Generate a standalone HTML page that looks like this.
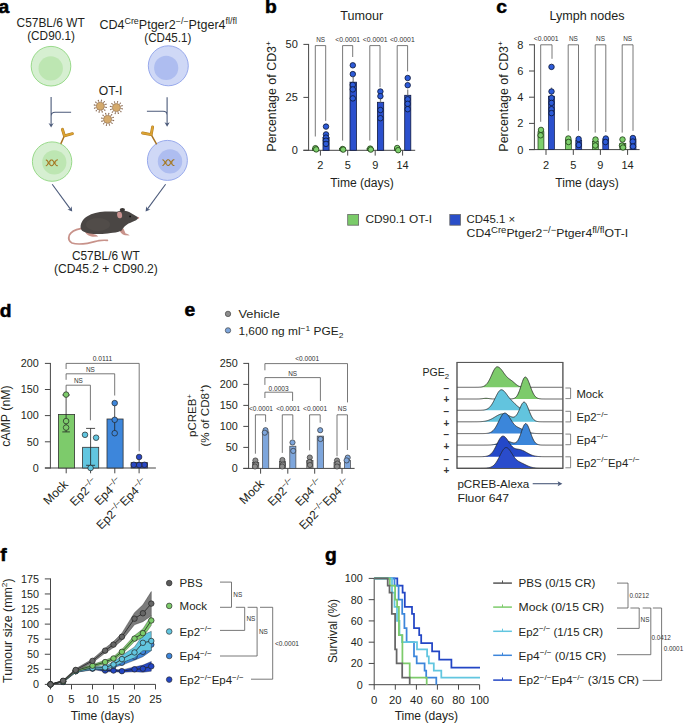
<!DOCTYPE html>
<html><head><meta charset="utf-8"><style>
html,body{margin:0;padding:0;background:#fff;width:685px;height:723px;overflow:hidden}
svg{display:block}
text{font-family:"Liberation Sans", sans-serif;font-variant-ligatures:none;font-kerning:normal}
</style></head><body>
<svg width="685" height="723" viewBox="0 0 685 723" font-family='"Liberation Sans", sans-serif'>
<rect x="0" y="0" width="685" height="723" fill="#fff"/>
<text transform="translate(-1.5,12.8) scale(1.07,1)" x="0" y="0" font-size="18" font-weight="bold" stroke="#000" stroke-width="0.5" fill="#000">a</text>
<text transform="translate(264.9,12.9) scale(1.07,1)" x="0" y="0" font-size="18" font-weight="bold" stroke="#000" stroke-width="0.5" fill="#000">b</text>
<text transform="translate(496.2,13.0) scale(1.07,1)" x="0" y="0" font-size="18" font-weight="bold" stroke="#000" stroke-width="0.5" fill="#000">c</text>
<text transform="translate(-0.3,316.7) scale(1.07,1)" x="0" y="0" font-size="18" font-weight="bold" stroke="#000" stroke-width="0.5" fill="#000">d</text>
<text transform="translate(184.6,315.9) scale(1.07,1)" x="0" y="0" font-size="18" font-weight="bold" stroke="#000" stroke-width="0.5" fill="#000">e</text>
<text transform="translate(0.2,560.9) scale(1.07,1)" x="0" y="0" font-size="18" font-weight="bold" stroke="#000" stroke-width="0.5" fill="#000">f</text>
<text transform="translate(324.9,561.2) scale(1.07,1)" x="0" y="0" font-size="18" font-weight="bold" stroke="#000" stroke-width="0.5" fill="#000">g</text>
<circle cx="51" cy="66.2" r="19.8" fill="#d6efd1" stroke="#8fd67f" stroke-width="0.9"/>
<circle cx="50.7" cy="68.4" r="12.2" fill="#bde6b2"/>
<circle cx="168.3" cy="65.8" r="20" fill="#cfd8f6" stroke="#8ea2ea" stroke-width="0.9"/>
<circle cx="166.2" cy="67.9" r="12.1" fill="#aebdf0"/>
<circle cx="52.1" cy="161.6" r="19.7" fill="#d6efd1" stroke="#8fd67f" stroke-width="0.9"/>
<circle cx="54.3" cy="162.4" r="12.1" fill="#bde6b2"/>
<circle cx="167.4" cy="160.4" r="20" fill="#cfd8f6" stroke="#8ea2ea" stroke-width="0.9"/>
<circle cx="170" cy="161.4" r="12.2" fill="#aebdf0"/>
<path d="M51.1,97 V125 M71.1,112.3 H55.1 Q51.1,112.3 51.1,116.3" stroke="#4b5a7a" stroke-width="1.1" fill="none"/>
<path d="M51.10,127.60 L48.50,123.00 L51.10,124.38 L53.70,123.00 Z" fill="#4b5a7a"/>
<path d="M167.1,97.2 V124.5 M146.9,111.3 H163.1 Q167.1,111.3 167.1,115.3" stroke="#4b5a7a" stroke-width="1.1" fill="none"/>
<path d="M167.10,126.80 L164.50,122.20 L167.10,123.58 L169.70,122.20 Z" fill="#4b5a7a"/>
<line x1="52.2" y1="184.2" x2="70.43" y2="209.18" stroke="#4b5a7a" stroke-width="1.1"/>
<path d="M72.20,211.60 L67.39,209.42 L70.30,209.00 L71.59,206.35 Z" fill="#4b5a7a"/>
<line x1="165.6" y1="184.2" x2="147.37" y2="209.18" stroke="#4b5a7a" stroke-width="1.1"/>
<path d="M145.60,211.60 L146.21,206.35 L147.50,209.00 L150.41,209.42 Z" fill="#4b5a7a"/>
<path d="M61.0,143.4 L64.4,135.8" stroke="#a87424" stroke-width="1.5" fill="none" stroke-linecap="round"/>
<path d="M62.4,129.3 L64.4,135.8 L72.4,133.7" stroke="#b27b22" stroke-width="2.9" fill="none" stroke-linecap="round" stroke-linejoin="round"/>
<path d="M62.4,129.3 L64.4,135.8 L72.4,133.7" stroke="#dba332" stroke-width="1.9" fill="none" stroke-linecap="round" stroke-linejoin="round"/>
<path d="M156.4,143.8 L151.2,134.6" stroke="#a87424" stroke-width="1.5" fill="none" stroke-linecap="round"/>
<path d="M152.6,126.9 L151.2,134.6 L142.6,133.0" stroke="#b27b22" stroke-width="2.9" fill="none" stroke-linecap="round" stroke-linejoin="round"/>
<path d="M152.6,126.9 L151.2,134.6 L142.6,133.0" stroke="#dba332" stroke-width="1.9" fill="none" stroke-linecap="round" stroke-linejoin="round"/>
<path d="M104.12,106.97 L106.18,107.39 M103.22,108.78 L104.80,110.17 M101.54,109.90 L102.21,111.89 M99.53,110.02 L99.11,112.08 M97.72,109.12 L96.33,110.70 M96.60,107.44 L94.61,108.11 M96.48,105.43 L94.42,105.01 M97.38,103.62 L95.80,102.23 M99.06,102.50 L98.39,100.51 M101.07,102.38 L101.49,100.32 M102.88,103.28 L104.27,101.70 M104.00,104.96 L105.99,104.29" stroke="#8d6e57" stroke-width="0.8" fill="none"/>
<circle cx="106.28" cy="107.41" r="0.65" fill="#8d6e57"/>
<circle cx="104.87" cy="110.24" r="0.65" fill="#8d6e57"/>
<circle cx="102.24" cy="111.98" r="0.65" fill="#8d6e57"/>
<circle cx="99.09" cy="112.18" r="0.65" fill="#8d6e57"/>
<circle cx="96.26" cy="110.77" r="0.65" fill="#8d6e57"/>
<circle cx="94.52" cy="108.14" r="0.65" fill="#8d6e57"/>
<circle cx="94.32" cy="104.99" r="0.65" fill="#8d6e57"/>
<circle cx="95.73" cy="102.16" r="0.65" fill="#8d6e57"/>
<circle cx="98.36" cy="100.42" r="0.65" fill="#8d6e57"/>
<circle cx="101.51" cy="100.22" r="0.65" fill="#8d6e57"/>
<circle cx="104.34" cy="101.63" r="0.65" fill="#8d6e57"/>
<circle cx="106.08" cy="104.26" r="0.65" fill="#8d6e57"/>
<circle cx="100.3" cy="106.2" r="4.0" fill="#d5aa6b" stroke="#9c7b5c" stroke-width="0.7"/>
<path d="M120.22,108.37 L122.28,108.79 M119.32,110.18 L120.90,111.57 M117.64,111.30 L118.31,113.29 M115.63,111.42 L115.21,113.48 M113.82,110.52 L112.43,112.10 M112.70,108.84 L110.71,109.51 M112.58,106.83 L110.52,106.41 M113.48,105.02 L111.90,103.63 M115.16,103.90 L114.49,101.91 M117.17,103.78 L117.59,101.72 M118.98,104.68 L120.37,103.10 M120.10,106.36 L122.09,105.69" stroke="#8d6e57" stroke-width="0.8" fill="none"/>
<circle cx="122.38" cy="108.81" r="0.65" fill="#8d6e57"/>
<circle cx="120.97" cy="111.64" r="0.65" fill="#8d6e57"/>
<circle cx="118.34" cy="113.38" r="0.65" fill="#8d6e57"/>
<circle cx="115.19" cy="113.58" r="0.65" fill="#8d6e57"/>
<circle cx="112.36" cy="112.17" r="0.65" fill="#8d6e57"/>
<circle cx="110.62" cy="109.54" r="0.65" fill="#8d6e57"/>
<circle cx="110.42" cy="106.39" r="0.65" fill="#8d6e57"/>
<circle cx="111.83" cy="103.56" r="0.65" fill="#8d6e57"/>
<circle cx="114.46" cy="101.82" r="0.65" fill="#8d6e57"/>
<circle cx="117.61" cy="101.62" r="0.65" fill="#8d6e57"/>
<circle cx="120.44" cy="103.03" r="0.65" fill="#8d6e57"/>
<circle cx="122.18" cy="105.66" r="0.65" fill="#8d6e57"/>
<circle cx="116.4" cy="107.6" r="4.0" fill="#d5aa6b" stroke="#9c7b5c" stroke-width="0.7"/>
<path d="M111.42,120.07 L113.48,120.49 M110.52,121.88 L112.10,123.27 M108.84,123.00 L109.51,124.99 M106.83,123.12 L106.41,125.18 M105.02,122.22 L103.63,123.80 M103.90,120.54 L101.91,121.21 M103.78,118.53 L101.72,118.11 M104.68,116.72 L103.10,115.33 M106.36,115.60 L105.69,113.61 M108.37,115.48 L108.79,113.42 M110.18,116.38 L111.57,114.80 M111.30,118.06 L113.29,117.39" stroke="#8d6e57" stroke-width="0.8" fill="none"/>
<circle cx="113.58" cy="120.51" r="0.65" fill="#8d6e57"/>
<circle cx="112.17" cy="123.34" r="0.65" fill="#8d6e57"/>
<circle cx="109.54" cy="125.08" r="0.65" fill="#8d6e57"/>
<circle cx="106.39" cy="125.28" r="0.65" fill="#8d6e57"/>
<circle cx="103.56" cy="123.87" r="0.65" fill="#8d6e57"/>
<circle cx="101.82" cy="121.24" r="0.65" fill="#8d6e57"/>
<circle cx="101.62" cy="118.09" r="0.65" fill="#8d6e57"/>
<circle cx="103.03" cy="115.26" r="0.65" fill="#8d6e57"/>
<circle cx="105.66" cy="113.52" r="0.65" fill="#8d6e57"/>
<circle cx="108.81" cy="113.32" r="0.65" fill="#8d6e57"/>
<circle cx="111.64" cy="114.73" r="0.65" fill="#8d6e57"/>
<circle cx="113.38" cy="117.36" r="0.65" fill="#8d6e57"/>
<circle cx="107.6" cy="119.3" r="4.0" fill="#d5aa6b" stroke="#9c7b5c" stroke-width="0.7"/>
<polyline points="45.80,165.70 46.20,165.63 46.60,165.43 47.00,165.10 47.40,164.66 47.80,164.13 48.20,163.54 48.60,162.92 49.00,162.29 49.40,161.68 49.80,161.13 50.20,160.65 50.60,160.28 51.00,160.03 51.40,159.91 51.80,159.93 52.20,160.08 52.60,160.36 53.00,160.76 53.40,161.26 53.80,161.83 54.20,162.44 54.60,163.08 55.00,163.70 55.40,164.27 55.80,164.78 56.20,165.19 56.60,165.49 57.00,165.66 57.40,165.70 57.80,165.59" fill="none" stroke="#a0741f" stroke-width="1.05"/>
<polyline points="45.80,159.90 46.20,159.97 46.60,160.17 47.00,160.50 47.40,160.94 47.80,161.47 48.20,162.06 48.60,162.68 49.00,163.31 49.40,163.92 49.80,164.47 50.20,164.95 50.60,165.32 51.00,165.57 51.40,165.69 51.80,165.67 52.20,165.52 52.60,165.24 53.00,164.84 53.40,164.34 53.80,163.77 54.20,163.16 54.60,162.52 55.00,161.90 55.40,161.33 55.80,160.82 56.20,160.41 56.60,160.11 57.00,159.94 57.40,159.90 57.80,160.01" fill="none" stroke="#a0741f" stroke-width="1.05"/>
<path d="M47.80,164.13 L47.80,161.47 M50.00,160.88 L50.00,164.72 M53.60,161.54 L53.60,164.06 M55.60,164.54 L55.60,161.06" stroke="#b58a3a" stroke-width="0.6" fill="none"/>
<polyline points="162.40,165.50 162.80,165.43 163.20,165.23 163.60,164.90 164.00,164.46 164.40,163.93 164.80,163.34 165.20,162.72 165.60,162.09 166.00,161.48 166.40,160.93 166.80,160.45 167.20,160.08 167.60,159.83 168.00,159.71 168.40,159.73 168.80,159.88 169.20,160.16 169.60,160.56 170.00,161.06 170.40,161.63 170.80,162.24 171.20,162.88 171.60,163.50 172.00,164.07 172.40,164.58 172.80,164.99 173.20,165.29 173.60,165.46 174.00,165.50 174.40,165.39" fill="none" stroke="#a0741f" stroke-width="1.05"/>
<polyline points="162.40,159.70 162.80,159.77 163.20,159.97 163.60,160.30 164.00,160.74 164.40,161.27 164.80,161.86 165.20,162.48 165.60,163.11 166.00,163.72 166.40,164.27 166.80,164.75 167.20,165.12 167.60,165.37 168.00,165.49 168.40,165.47 168.80,165.32 169.20,165.04 169.60,164.64 170.00,164.14 170.40,163.57 170.80,162.96 171.20,162.32 171.60,161.70 172.00,161.13 172.40,160.62 172.80,160.21 173.20,159.91 173.60,159.74 174.00,159.70 174.40,159.81" fill="none" stroke="#a0741f" stroke-width="1.05"/>
<path d="M164.40,163.93 L164.40,161.27 M166.60,160.68 L166.60,164.52 M170.20,161.34 L170.20,163.86 M172.20,164.34 L172.20,160.86" stroke="#b58a3a" stroke-width="0.6" fill="none"/>
<path d="M80.6,228.6 C76,229.5 71,232 69.4,235 C68.2,238 68.8,241.2 72,243 C76,244.4 82,244.1 87.4,243.3 C92,242.6 96,241.1 99,240.6 C102,240.2 105,240.2 107.4,240.4" stroke="#c8928a" stroke-width="1.7" fill="none" stroke-linecap="round"/>
<path d="M84.6,230.5 C85.6,234.2 88.6,236.4 93,236.7 L98.2,236.6 C97.4,235.2 95.6,234.6 93.6,234.3 L92,231.5 Z" fill="#c8928a"/>
<path d="M118.6,228.5 C119.8,232 122,234.6 125,235.3 L129.6,235.5 C128.8,234.3 127.2,233.7 125.6,233.4 L123.4,228.6 Z" fill="#c8928a"/>
<path d="M80.9,229 C79.5,224 83,218.5 87.4,216.2 C92,213.6 98,211.9 104.9,211.6 C109,211.4 113,211.6 117,211.7 C120,210.4 122.5,210.1 124.7,210.7 C128,211.3 130.5,212.6 132.5,214 C135,215.5 137,216.5 138.5,217.7 C137.6,219.3 136.5,220.1 135,220.7 C132.5,221.9 130.5,222.6 128.5,223.6 C125.5,225.2 123.2,227.8 121.7,230.6 C117.5,232.6 113.5,232.9 110.7,233.0 C106,233.7 102,234.1 99,234.0 C95,233.9 92,233.7 89.7,233.4 C85,232.6 82,231.5 80.9,229 Z" fill="#4a4644"/>
<ellipse cx="98" cy="224.5" rx="12" ry="6.5" fill="#57524f" opacity="0.55"/>
<ellipse cx="122.4" cy="209.8" rx="2.6" ry="1.9" fill="#3a3634"/>
<ellipse cx="119.6" cy="215.0" rx="2.5" ry="3.3" fill="#c99290" transform="rotate(-8 119.6 215)"/>
<circle cx="130.1" cy="216.4" r="0.95" fill="#111"/>
<circle cx="138.4" cy="217.9" r="0.8" fill="#d08a8a"/>
<text x="16.6" y="27.3" font-size="12" textLength="68.1" lengthAdjust="spacingAndGlyphs" fill="#231f20">C57BL/6 WT</text>
<text x="27.2" y="40.3" font-size="12" textLength="47.8" lengthAdjust="spacingAndGlyphs" fill="#231f20">(CD90.1)</text>
<text x="99.4" y="28.5" font-size="12" textLength="137.5" lengthAdjust="spacingAndGlyphs" fill="#231f20">CD4<tspan font-size="8.5" dy="-4.6">Cre</tspan><tspan dy="4.6">Ptger2</tspan><tspan font-size="8.5" dy="-4.6">&#8722;/&#8722;</tspan><tspan dy="4.6">Ptger4</tspan><tspan font-size="8.5" dy="-4.6">f&#8204;l/f&#8204;l</tspan></text>
<text x="144.3" y="42.4" font-size="12" textLength="47" lengthAdjust="spacingAndGlyphs" fill="#231f20">(CD45.1)</text>
<text x="98.8" y="95.2" font-size="12" textLength="23.6" lengthAdjust="spacingAndGlyphs" fill="#231f20">OT-I</text>
<text x="71.9" y="259.8" font-size="12" textLength="67.9" lengthAdjust="spacingAndGlyphs" fill="#231f20">C57BL/6 WT</text>
<text x="53.9" y="272.9" font-size="12" textLength="104" lengthAdjust="spacingAndGlyphs" fill="#231f20">(CD45.2 + CD90.2)</text>
<text x="361.7" y="19.9" font-size="12.5" text-anchor="middle" textLength="42.9" lengthAdjust="spacingAndGlyphs" fill="#231f20">Tumour</text>
<line x1="308.6" y1="43.949999999999996" x2="308.6" y2="150.75" stroke="#474747" stroke-width="1.0"/>
<line x1="303.4" y1="44.4" x2="308.6" y2="44.4" stroke="#474747" stroke-width="1.0"/>
<text x="297.8" y="48.36" font-size="11" text-anchor="end" fill="#231f20">50</text>
<line x1="303.4" y1="97.4" x2="308.6" y2="97.4" stroke="#474747" stroke-width="1.0"/>
<text x="297.8" y="101.36" font-size="11" text-anchor="end" fill="#231f20">25</text>
<line x1="303.4" y1="150.3" x2="308.6" y2="150.3" stroke="#474747" stroke-width="1.0"/>
<text x="297.8" y="154.26000000000002" font-size="11" text-anchor="end" fill="#231f20">0</text>
<line x1="303.4" y1="150.3" x2="415.2" y2="150.3" stroke="#474747" stroke-width="1.0"/>
<line x1="320.4" y1="150.3" x2="320.4" y2="155.60000000000002" stroke="#474747" stroke-width="1.0"/>
<line x1="347.7" y1="150.3" x2="347.7" y2="155.60000000000002" stroke="#474747" stroke-width="1.0"/>
<line x1="375.2" y1="150.3" x2="375.2" y2="155.60000000000002" stroke="#474747" stroke-width="1.0"/>
<line x1="402.6" y1="150.3" x2="402.6" y2="155.60000000000002" stroke="#474747" stroke-width="1.0"/>
<text x="320.4" y="169.2" font-size="11" text-anchor="middle" fill="#231f20">2</text>
<text x="347.7" y="169.2" font-size="11" text-anchor="middle" fill="#231f20">5</text>
<text x="375.2" y="169.2" font-size="11" text-anchor="middle" fill="#231f20">9</text>
<text x="402.6" y="169.2" font-size="11" text-anchor="middle" fill="#231f20">14</text>
<text x="362" y="186.5" font-size="12" text-anchor="middle" textLength="63.5" lengthAdjust="spacingAndGlyphs" fill="#231f20">Time (days)</text>
<text transform="translate(275.6,96.4) rotate(-90)" x="0" y="0" font-size="12" text-anchor="middle" textLength="110.5" lengthAdjust="spacingAndGlyphs" fill="#231f20">Percentage of CD3<tspan font-size="8" dy="-4.5">+</tspan></text>
<rect x="323.0" y="137.4" width="6.100000000000023" height="12.900000000000006" fill="#2b50cd" stroke="#101a40" stroke-width="0.8"/>
<rect x="350.0" y="82.2" width="6.399999999999977" height="68.10000000000001" fill="#2b50cd" stroke="#101a40" stroke-width="0.8"/>
<rect x="377.4" y="102.3" width="6.300000000000011" height="48.000000000000014" fill="#2b50cd" stroke="#101a40" stroke-width="0.8"/>
<rect x="404.7" y="95.3" width="6.100000000000023" height="55.000000000000014" fill="#2b50cd" stroke="#101a40" stroke-width="0.8"/>
<rect x="312.5" y="148.3" width="6.100000000000023" height="2.0" fill="#7dcf6c" stroke="#1d3a14" stroke-width="0.6"/>
<rect x="339.6" y="148.3" width="6.099999999999966" height="2.0" fill="#7dcf6c" stroke="#1d3a14" stroke-width="0.6"/>
<rect x="367.0" y="148.3" width="6.100000000000023" height="2.0" fill="#7dcf6c" stroke="#1d3a14" stroke-width="0.6"/>
<rect x="394.3" y="148.3" width="6.099999999999966" height="2.0" fill="#7dcf6c" stroke="#1d3a14" stroke-width="0.6"/>
<line x1="326" y1="133.5" x2="326" y2="137.4" stroke="#8a8a8a" stroke-width="1.3"/>
<line x1="353.2" y1="77" x2="353.2" y2="82.2" stroke="#8a8a8a" stroke-width="1.3"/>
<line x1="380.5" y1="98" x2="380.5" y2="102.3" stroke="#8a8a8a" stroke-width="1.3"/>
<line x1="407.7" y1="89.4" x2="407.7" y2="95.3" stroke="#8a8a8a" stroke-width="1.3"/>
<polyline points="315.3,136.5 315.3,45.6 325.7,45.6 325.7,120.9" stroke="#555" stroke-width="0.8" fill="none"/>
<text x="320.7" y="41.5" font-size="6.6" text-anchor="middle" textLength="8.9" lengthAdjust="spacingAndGlyphs" fill="#333">NS</text>
<polyline points="342.6,140.6 342.6,45.6 352.7,45.6 352.7,57.0" stroke="#555" stroke-width="0.8" fill="none"/>
<text x="347.7" y="41.5" font-size="6.6" text-anchor="middle" textLength="24.8" lengthAdjust="spacingAndGlyphs" fill="#333">&lt;0.0001</text>
<polyline points="369.8,140.6 369.8,45.6 380.0,45.6 380.0,87.2" stroke="#555" stroke-width="0.8" fill="none"/>
<text x="375.2" y="41.5" font-size="6.6" text-anchor="middle" textLength="24.8" lengthAdjust="spacingAndGlyphs" fill="#333">&lt;0.0001</text>
<polyline points="397.2,140.6 397.2,45.6 407.6,45.6 407.6,71.4" stroke="#555" stroke-width="0.8" fill="none"/>
<text x="402.3" y="41.5" font-size="6.6" text-anchor="middle" textLength="24.8" lengthAdjust="spacingAndGlyphs" fill="#333">&lt;0.0001</text>
<circle cx="326" cy="126.6" r="2.75" fill="#2d5bd9" stroke="#0d1633" stroke-width="0.8"/>
<circle cx="326" cy="134.4" r="2.75" fill="#2d5bd9" stroke="#0d1633" stroke-width="0.8"/>
<circle cx="326" cy="137.6" r="2.75" fill="#2d5bd9" stroke="#0d1633" stroke-width="0.8"/>
<circle cx="326" cy="140.7" r="2.75" fill="#2d5bd9" stroke="#0d1633" stroke-width="0.8"/>
<circle cx="326" cy="143.9" r="2.75" fill="#2d5bd9" stroke="#0d1633" stroke-width="0.8"/>
<circle cx="352.8" cy="65.3" r="2.75" fill="#2d5bd9" stroke="#0d1633" stroke-width="0.8"/>
<circle cx="352.8" cy="74.1" r="2.75" fill="#2d5bd9" stroke="#0d1633" stroke-width="0.8"/>
<circle cx="352.8" cy="84.9" r="2.75" fill="#2d5bd9" stroke="#0d1633" stroke-width="0.8"/>
<circle cx="352.8" cy="89.4" r="2.75" fill="#2d5bd9" stroke="#0d1633" stroke-width="0.8"/>
<circle cx="352.8" cy="98.4" r="2.75" fill="#2d5bd9" stroke="#0d1633" stroke-width="0.8"/>
<circle cx="380.4" cy="91.5" r="2.75" fill="#2d5bd9" stroke="#0d1633" stroke-width="0.8"/>
<circle cx="380.4" cy="96.2" r="2.75" fill="#2d5bd9" stroke="#0d1633" stroke-width="0.8"/>
<circle cx="380.4" cy="110" r="2.75" fill="#2d5bd9" stroke="#0d1633" stroke-width="0.8"/>
<circle cx="380.4" cy="118.2" r="2.75" fill="#2d5bd9" stroke="#0d1633" stroke-width="0.8"/>
<circle cx="407.7" cy="78" r="2.75" fill="#2d5bd9" stroke="#0d1633" stroke-width="0.8"/>
<circle cx="407.7" cy="85.2" r="2.75" fill="#2d5bd9" stroke="#0d1633" stroke-width="0.8"/>
<circle cx="407.7" cy="99.3" r="2.75" fill="#2d5bd9" stroke="#0d1633" stroke-width="0.8"/>
<circle cx="407.7" cy="103.8" r="2.75" fill="#2d5bd9" stroke="#0d1633" stroke-width="0.8"/>
<circle cx="407.7" cy="109.2" r="2.75" fill="#2d5bd9" stroke="#0d1633" stroke-width="0.8"/>
<circle cx="315.4" cy="148.2" r="2.75" fill="#7dcf6c" stroke="#1d3a14" stroke-width="0.8"/>
<circle cx="316.2" cy="149.4" r="2.75" fill="#7dcf6c" stroke="#1d3a14" stroke-width="0.8"/>
<circle cx="342.6" cy="149.0" r="2.75" fill="#7dcf6c" stroke="#1d3a14" stroke-width="0.8"/>
<circle cx="343.2" cy="149.6" r="2.75" fill="#7dcf6c" stroke="#1d3a14" stroke-width="0.8"/>
<circle cx="370.2" cy="148.6" r="2.75" fill="#7dcf6c" stroke="#1d3a14" stroke-width="0.8"/>
<circle cx="370.8" cy="149.6" r="2.75" fill="#7dcf6c" stroke="#1d3a14" stroke-width="0.8"/>
<circle cx="397.2" cy="148.0" r="2.75" fill="#7dcf6c" stroke="#1d3a14" stroke-width="0.8"/>
<circle cx="398.2" cy="150.2" r="2.75" fill="#7dcf6c" stroke="#1d3a14" stroke-width="0.8"/>
<text x="587" y="19.9" font-size="12.5" text-anchor="middle" textLength="75" lengthAdjust="spacingAndGlyphs" fill="#231f20">Lymph nodes</text>
<line x1="534.4" y1="44.349999999999994" x2="534.4" y2="150.04999999999998" stroke="#474747" stroke-width="1.0"/>
<line x1="529.0" y1="44.8" x2="534.4" y2="44.8" stroke="#474747" stroke-width="1.0"/>
<text x="523.4" y="48.76" font-size="11" text-anchor="end" fill="#231f20">8</text>
<line x1="529.0" y1="71.0" x2="534.4" y2="71.0" stroke="#474747" stroke-width="1.0"/>
<text x="523.4" y="74.96" font-size="11" text-anchor="end" fill="#231f20">6</text>
<line x1="529.0" y1="97.2" x2="534.4" y2="97.2" stroke="#474747" stroke-width="1.0"/>
<text x="523.4" y="101.16" font-size="11" text-anchor="end" fill="#231f20">4</text>
<line x1="529.0" y1="123.4" x2="534.4" y2="123.4" stroke="#474747" stroke-width="1.0"/>
<text x="523.4" y="127.36" font-size="11" text-anchor="end" fill="#231f20">2</text>
<line x1="529.0" y1="149.6" x2="534.4" y2="149.6" stroke="#474747" stroke-width="1.0"/>
<text x="523.4" y="153.56" font-size="11" text-anchor="end" fill="#231f20">0</text>
<line x1="529.0" y1="149.6" x2="639.6" y2="149.6" stroke="#474747" stroke-width="1.0"/>
<line x1="546.0" y1="149.6" x2="546.0" y2="154.9" stroke="#474747" stroke-width="1.0"/>
<line x1="573.3" y1="149.6" x2="573.3" y2="154.9" stroke="#474747" stroke-width="1.0"/>
<line x1="600.4" y1="149.6" x2="600.4" y2="154.9" stroke="#474747" stroke-width="1.0"/>
<line x1="627.6" y1="149.6" x2="627.6" y2="154.9" stroke="#474747" stroke-width="1.0"/>
<text x="546.0" y="169.2" font-size="11" text-anchor="middle" fill="#231f20">2</text>
<text x="573.3" y="169.2" font-size="11" text-anchor="middle" fill="#231f20">5</text>
<text x="600.4" y="169.2" font-size="11" text-anchor="middle" fill="#231f20">9</text>
<text x="627.6" y="169.2" font-size="11" text-anchor="middle" fill="#231f20">14</text>
<text x="587" y="186.5" font-size="12" text-anchor="middle" textLength="63.5" lengthAdjust="spacingAndGlyphs" fill="#231f20">Time (days)</text>
<text transform="translate(507.6,96.4) rotate(-90)" x="0" y="0" font-size="12" text-anchor="middle" textLength="110.5" lengthAdjust="spacingAndGlyphs" fill="#231f20">Percentage of CD3<tspan font-size="8" dy="-4.5">+</tspan></text>
<rect x="538.0" y="131.7" width="5.899999999999977" height="17.900000000000006" fill="#7dcf6c" stroke="#1d3a14" stroke-width="0.7"/>
<rect x="565.5" y="139.7" width="5.7999999999999545" height="9.900000000000006" fill="#7dcf6c" stroke="#1d3a14" stroke-width="0.7"/>
<rect x="592.5" y="141.2" width="5.7999999999999545" height="8.400000000000006" fill="#7dcf6c" stroke="#1d3a14" stroke-width="0.7"/>
<rect x="619.9" y="143.3" width="5.899999999999977" height="6.299999999999983" fill="#7dcf6c" stroke="#1d3a14" stroke-width="0.7"/>
<rect x="548.4" y="96.2" width="6.100000000000023" height="53.39999999999999" fill="#2b50cd" stroke="#101a40" stroke-width="0.7"/>
<rect x="575.8" y="140.6" width="5.900000000000091" height="9.0" fill="#2b50cd" stroke="#101a40" stroke-width="0.7"/>
<rect x="602.8" y="138.9" width="5.900000000000091" height="10.699999999999989" fill="#2b50cd" stroke="#101a40" stroke-width="0.7"/>
<rect x="630.1" y="138.9" width="5.899999999999977" height="10.699999999999989" fill="#2b50cd" stroke="#101a40" stroke-width="0.7"/>
<line x1="551.5" y1="87.5" x2="551.5" y2="96.2" stroke="#8a8a8a" stroke-width="1.3"/>
<polyline points="540.7,121.8 540.7,44.8 552.0,44.8 552.0,58.8" stroke="#555" stroke-width="0.8" fill="none"/>
<text x="546.2" y="40.8" font-size="6.6" text-anchor="middle" textLength="24.8" lengthAdjust="spacingAndGlyphs" fill="#333">&lt;0.0001</text>
<polyline points="568.2,130.8 568.2,44.8 578.5,44.8 578.5,130.8" stroke="#555" stroke-width="0.8" fill="none"/>
<text x="573.4" y="40.8" font-size="6.6" text-anchor="middle" textLength="8.9" lengthAdjust="spacingAndGlyphs" fill="#333">NS</text>
<polyline points="595.2,132.6 595.2,44.8 605.8,44.8 605.8,132.0" stroke="#555" stroke-width="0.8" fill="none"/>
<text x="600.5" y="40.8" font-size="6.6" text-anchor="middle" textLength="8.9" lengthAdjust="spacingAndGlyphs" fill="#333">NS</text>
<polyline points="622.2,132.6 622.2,44.8 633.0,44.8 633.0,130.8" stroke="#555" stroke-width="0.8" fill="none"/>
<text x="627.6" y="40.8" font-size="6.6" text-anchor="middle" textLength="8.9" lengthAdjust="spacingAndGlyphs" fill="#333">NS</text>
<circle cx="551.5" cy="66.9" r="2.75" fill="#2d5bd9" stroke="#0d1633" stroke-width="0.8"/>
<circle cx="551.5" cy="91.5" r="2.75" fill="#2d5bd9" stroke="#0d1633" stroke-width="0.8"/>
<circle cx="551.5" cy="98.0" r="2.75" fill="#2d5bd9" stroke="#0d1633" stroke-width="0.8"/>
<circle cx="551.5" cy="102.9" r="2.75" fill="#2d5bd9" stroke="#0d1633" stroke-width="0.8"/>
<circle cx="551.5" cy="109.2" r="2.75" fill="#2d5bd9" stroke="#0d1633" stroke-width="0.8"/>
<circle cx="551.5" cy="113.1" r="2.75" fill="#2d5bd9" stroke="#0d1633" stroke-width="0.8"/>
<circle cx="541.0" cy="129.9" r="2.75" fill="#7dcf6c" stroke="#1d3a14" stroke-width="0.8"/>
<circle cx="540.6" cy="135.3" r="2.75" fill="#7dcf6c" stroke="#1d3a14" stroke-width="0.8"/>
<circle cx="568.3" cy="138.5" r="2.75" fill="#7dcf6c" stroke="#1d3a14" stroke-width="0.8"/>
<circle cx="568.5" cy="142.0" r="2.75" fill="#7dcf6c" stroke="#1d3a14" stroke-width="0.8"/>
<circle cx="595.5" cy="139.5" r="2.75" fill="#7dcf6c" stroke="#1d3a14" stroke-width="0.8"/>
<circle cx="595.3" cy="145.5" r="2.75" fill="#7dcf6c" stroke="#1d3a14" stroke-width="0.8"/>
<circle cx="622.5" cy="139.5" r="2.75" fill="#7dcf6c" stroke="#1d3a14" stroke-width="0.8"/>
<circle cx="622.0" cy="145.5" r="2.75" fill="#7dcf6c" stroke="#1d3a14" stroke-width="0.8"/>
<circle cx="623.0" cy="147.5" r="2.75" fill="#7dcf6c" stroke="#1d3a14" stroke-width="0.8"/>
<circle cx="578.6" cy="139.0" r="2.75" fill="#2d5bd9" stroke="#0d1633" stroke-width="0.8"/>
<circle cx="578.8" cy="145.0" r="2.75" fill="#2d5bd9" stroke="#0d1633" stroke-width="0.8"/>
<circle cx="605.8" cy="138.5" r="2.75" fill="#2d5bd9" stroke="#0d1633" stroke-width="0.8"/>
<circle cx="605.5" cy="142.0" r="2.75" fill="#2d5bd9" stroke="#0d1633" stroke-width="0.8"/>
<circle cx="632.9" cy="138.0" r="2.75" fill="#2d5bd9" stroke="#0d1633" stroke-width="0.8"/>
<circle cx="632.8" cy="141.5" r="2.75" fill="#2d5bd9" stroke="#0d1633" stroke-width="0.8"/>
<circle cx="633.0" cy="146.5" r="2.75" fill="#2d5bd9" stroke="#0d1633" stroke-width="0.8"/>
<rect x="347.7" y="214.5" width="10.900000000000034" height="10.699999999999989" fill="#7acb69" stroke="#666" stroke-width="0.8"/>
<text x="365.4" y="223.3" font-size="11.5" textLength="66.7" lengthAdjust="spacingAndGlyphs" fill="#231f20">CD90.1 OT-I</text>
<rect x="449.8" y="214.5" width="10.699999999999989" height="10.699999999999989" fill="#2a4ec8" stroke="#666" stroke-width="0.8"/>
<text x="466.6" y="223.3" font-size="11.5" textLength="48.6" lengthAdjust="spacingAndGlyphs" fill="#231f20">CD45.1 ×</text>
<text x="466.6" y="237.3" font-size="11.5" textLength="161.6" lengthAdjust="spacingAndGlyphs" fill="#231f20">CD4<tspan font-size="9" dy="-4.8">Cre</tspan><tspan dy="4.8">Ptger2</tspan><tspan font-size="9" dy="-4.8">&#8722;/&#8722;</tspan><tspan dy="4.8">Ptger4</tspan><tspan font-size="9" dy="-4.8">f&#8204;l/f&#8204;l</tspan><tspan dy="4.8">OT-I</tspan></text>
<line x1="50.4" y1="362.95" x2="50.4" y2="468.45" stroke="#474747" stroke-width="1.0"/>
<line x1="44.9" y1="363.4" x2="50.4" y2="363.4" stroke="#474747" stroke-width="1.0"/>
<text x="38.8" y="367.28799999999995" font-size="10.8" text-anchor="end" fill="#231f20">200</text>
<line x1="44.9" y1="389.5" x2="50.4" y2="389.5" stroke="#474747" stroke-width="1.0"/>
<text x="38.8" y="393.388" font-size="10.8" text-anchor="end" fill="#231f20">150</text>
<line x1="44.9" y1="415.6" x2="50.4" y2="415.6" stroke="#474747" stroke-width="1.0"/>
<text x="38.8" y="419.488" font-size="10.8" text-anchor="end" fill="#231f20">100</text>
<line x1="44.9" y1="441.8" x2="50.4" y2="441.8" stroke="#474747" stroke-width="1.0"/>
<text x="38.8" y="445.688" font-size="10.8" text-anchor="end" fill="#231f20">50</text>
<line x1="44.9" y1="468.0" x2="50.4" y2="468.0" stroke="#474747" stroke-width="1.0"/>
<text x="38.8" y="471.888" font-size="10.8" text-anchor="end" fill="#231f20">0</text>
<line x1="44.9" y1="468.0" x2="155.9" y2="468.0" stroke="#474747" stroke-width="1.0"/>
<line x1="66.2" y1="468.0" x2="66.2" y2="473.3" stroke="#474747" stroke-width="1.0"/>
<line x1="90.6" y1="468.0" x2="90.6" y2="473.3" stroke="#474747" stroke-width="1.0"/>
<line x1="114.8" y1="468.0" x2="114.8" y2="473.3" stroke="#474747" stroke-width="1.0"/>
<line x1="139.1" y1="468.0" x2="139.1" y2="473.3" stroke="#474747" stroke-width="1.0"/>
<text transform="translate(9.6,416.1) rotate(-90)" x="0" y="0" font-size="12" text-anchor="middle" textLength="61.5" lengthAdjust="spacingAndGlyphs" fill="#231f20">cAMP (nM)</text>
<rect x="58.4" y="414.4" width="16.199999999999996" height="53.60000000000002" fill="#7dcb6b" stroke="#333" stroke-width="0.8"/>
<rect x="82.6" y="447.3" width="16.10000000000001" height="20.69999999999999" fill="#62c6e0" stroke="#333" stroke-width="0.8"/>
<rect x="107.0" y="419.0" width="16.099999999999994" height="49.0" fill="#3d86db" stroke="#333" stroke-width="0.8"/>
<rect x="131.1" y="462.6" width="16.400000000000006" height="5.399999999999977" fill="#2a48c4" stroke="#333" stroke-width="0.8"/>
<line x1="66.1" y1="395.0" x2="66.1" y2="431.9" stroke="#222" stroke-width="0.8"/>
<line x1="62.3" y1="395.0" x2="69.89999999999999" y2="395.0" stroke="#222" stroke-width="0.8"/>
<line x1="62.3" y1="431.9" x2="69.89999999999999" y2="431.9" stroke="#222" stroke-width="0.8"/>
<line x1="90.6" y1="428.4" x2="90.6" y2="465.3" stroke="#222" stroke-width="0.8"/>
<line x1="86.1" y1="428.4" x2="95.1" y2="428.4" stroke="#222" stroke-width="0.8"/>
<line x1="86.1" y1="465.3" x2="95.1" y2="465.3" stroke="#222" stroke-width="0.8"/>
<line x1="114.7" y1="403.0" x2="114.7" y2="434.0" stroke="#222" stroke-width="0.8"/>
<line x1="139.1" y1="456.5" x2="139.1" y2="466.5" stroke="#222" stroke-width="0.8"/>
<polyline points="66.1,369.0 66.1,363.4 139.2,363.4 139.2,451.3" stroke="#555" stroke-width="0.8" fill="none"/>
<polyline points="66.1,379.8 66.1,373.8 114.7,373.8 114.7,395.5" stroke="#555" stroke-width="0.8" fill="none"/>
<polyline points="66.1,394.0 66.1,385.2 90.4,385.2 90.4,420.3" stroke="#555" stroke-width="0.8" fill="none"/>
<text x="102.4" y="361.3" font-size="6.8" text-anchor="middle" textLength="19.5" lengthAdjust="spacingAndGlyphs" fill="#333">0.0111</text>
<text x="90.4" y="371.8" font-size="6.8" text-anchor="middle" textLength="8.9" lengthAdjust="spacingAndGlyphs" fill="#333">NS</text>
<text x="78.4" y="383.2" font-size="6.8" text-anchor="middle" textLength="8.9" lengthAdjust="spacingAndGlyphs" fill="#333">NS</text>
<circle cx="66.1" cy="394.6" r="2.8" fill="#7dcb6b" stroke="#222" stroke-width="0.7"/>
<circle cx="66.1" cy="421.1" r="2.8" fill="#7dcb6b" stroke="#222" stroke-width="0.7"/>
<circle cx="66.1" cy="427.6" r="2.8" fill="#7dcb6b" stroke="#222" stroke-width="0.7"/>
<circle cx="85.0" cy="434.8" r="2.8" fill="#62c6e0" stroke="#222" stroke-width="0.7"/>
<circle cx="96.1" cy="437.7" r="2.8" fill="#62c6e0" stroke="#222" stroke-width="0.7"/>
<circle cx="90.6" cy="468.0" r="2.8" fill="#62c6e0" stroke="#222" stroke-width="0.7"/>
<circle cx="114.7" cy="403.1" r="2.8" fill="#3d86db" stroke="#222" stroke-width="0.7"/>
<circle cx="114.7" cy="419.8" r="2.8" fill="#3d86db" stroke="#222" stroke-width="0.7"/>
<circle cx="114.7" cy="433.2" r="2.8" fill="#3d86db" stroke="#222" stroke-width="0.7"/>
<circle cx="139.1" cy="457.0" r="2.8" fill="#2a48c4" stroke="#222" stroke-width="0.7"/>
<circle cx="133.8" cy="464.8" r="2.8" fill="#2a48c4" stroke="#222" stroke-width="0.7"/>
<circle cx="144.5" cy="464.8" r="2.8" fill="#2a48c4" stroke="#222" stroke-width="0.7"/>
<circle cx="139.1" cy="465.0" r="2.8" fill="#2a48c4" stroke="#222" stroke-width="0.7"/>
<text transform="translate(68.8,485.1) rotate(-45)" x="0" y="0" font-size="12.1" text-anchor="end" fill="#231f20">Mock</text>
<text transform="translate(98.3,483.2) rotate(-45)" x="0" y="0" font-size="11.9" text-anchor="end" fill="#231f20">Ep2<tspan font-size="8.3" dy="-4.5">&#8722;/&#8722;</tspan></text>
<text transform="translate(122.7,482.6) rotate(-45)" x="0" y="0" font-size="11.9" text-anchor="end" fill="#231f20">Ep4<tspan font-size="8.3" dy="-4.5">&#8722;/&#8722;</tspan></text>
<text transform="translate(148.2,483.2) rotate(-45)" x="0" y="0" font-size="11.9" text-anchor="end" fill="#231f20">Ep2<tspan font-size="8.3" dy="-4.5">&#8722;/&#8722;</tspan><tspan dy="4.5">Ep4</tspan><tspan font-size="8.3" dy="-4.5">&#8722;/&#8722;</tspan></text>
<circle cx="228" cy="313.9" r="2.7" fill="#8c8c8c" stroke="#444" stroke-width="0.7"/>
<text x="238.4" y="317.5" font-size="11.3" textLength="41.4" lengthAdjust="spacingAndGlyphs" fill="#231f20">Vehicle</text>
<circle cx="228" cy="330.4" r="2.7" fill="#7ea6dc" stroke="#444" stroke-width="0.7"/>
<text x="238.4" y="335.1" font-size="11.3" textLength="105" lengthAdjust="spacingAndGlyphs" fill="#231f20">1,600 ng ml<tspan font-size="8" dy="-4.3">&#8722;1</tspan><tspan dy="4.3"> PGE</tspan><tspan font-size="8" dy="2.5">2</tspan></text>
<line x1="248.6" y1="362.95" x2="248.6" y2="468.84999999999997" stroke="#474747" stroke-width="1.0"/>
<line x1="243.3" y1="363.4" x2="248.6" y2="363.4" stroke="#474747" stroke-width="1.0"/>
<text x="237.8" y="367.28799999999995" font-size="10.8" text-anchor="end" fill="#231f20">250</text>
<line x1="243.3" y1="384.4" x2="248.6" y2="384.4" stroke="#474747" stroke-width="1.0"/>
<text x="237.8" y="388.28799999999995" font-size="10.8" text-anchor="end" fill="#231f20">200</text>
<line x1="243.3" y1="405.4" x2="248.6" y2="405.4" stroke="#474747" stroke-width="1.0"/>
<text x="237.8" y="409.28799999999995" font-size="10.8" text-anchor="end" fill="#231f20">150</text>
<line x1="243.3" y1="426.4" x2="248.6" y2="426.4" stroke="#474747" stroke-width="1.0"/>
<text x="237.8" y="430.28799999999995" font-size="10.8" text-anchor="end" fill="#231f20">100</text>
<line x1="243.3" y1="447.4" x2="248.6" y2="447.4" stroke="#474747" stroke-width="1.0"/>
<text x="237.8" y="451.28799999999995" font-size="10.8" text-anchor="end" fill="#231f20">50</text>
<line x1="243.3" y1="468.4" x2="248.6" y2="468.4" stroke="#474747" stroke-width="1.0"/>
<text x="237.8" y="472.28799999999995" font-size="10.8" text-anchor="end" fill="#231f20">0</text>
<line x1="243.3" y1="468.4" x2="354.6" y2="468.4" stroke="#474747" stroke-width="1.0"/>
<line x1="260.6" y1="468.4" x2="260.6" y2="473.7" stroke="#474747" stroke-width="1.0"/>
<line x1="287.8" y1="468.4" x2="287.8" y2="473.7" stroke="#474747" stroke-width="1.0"/>
<line x1="314.7" y1="468.4" x2="314.7" y2="473.7" stroke="#474747" stroke-width="1.0"/>
<line x1="342.0" y1="468.4" x2="342.0" y2="473.7" stroke="#474747" stroke-width="1.0"/>
<text transform="translate(196,415.5) rotate(-90)" x="0" y="0" font-size="11.5" text-anchor="middle" fill="#231f20">pCREB<tspan font-size="8" dy="-4.3">+</tspan></text>
<text transform="translate(209.2,415.5) rotate(-90)" x="0" y="0" font-size="11.5" text-anchor="middle" textLength="62" lengthAdjust="spacingAndGlyphs" fill="#231f20">(% of CD8<tspan font-size="8" dy="-4.3">+</tspan><tspan dy="4.3">)</tspan></text>
<rect x="252.6" y="462.5" width="6.200000000000017" height="5.899999999999977" fill="#9a9a9a" stroke="#444" stroke-width="0.7"/>
<rect x="279.4" y="461.5" width="6.2000000000000455" height="6.899999999999977" fill="#9a9a9a" stroke="#444" stroke-width="0.7"/>
<rect x="306.8" y="460.5" width="6.199999999999989" height="7.899999999999977" fill="#9a9a9a" stroke="#444" stroke-width="0.7"/>
<rect x="334.0" y="462.5" width="6.199999999999989" height="5.899999999999977" fill="#9a9a9a" stroke="#444" stroke-width="0.7"/>
<rect x="262.6" y="431.9" width="6.199999999999989" height="36.5" fill="#7ea6dc" stroke="#444" stroke-width="0.7"/>
<rect x="289.8" y="446.2" width="6.099999999999966" height="22.19999999999999" fill="#7ea6dc" stroke="#444" stroke-width="0.7"/>
<rect x="317.2" y="436.1" width="6.400000000000034" height="32.299999999999955" fill="#7ea6dc" stroke="#444" stroke-width="0.7"/>
<rect x="344.4" y="460.4" width="6.0" height="8.0" fill="#7ea6dc" stroke="#444" stroke-width="0.7"/>
<circle cx="255.4" cy="460.5" r="2.6" fill="#8c8c8c" stroke="#333" stroke-width="0.7"/>
<circle cx="255.9" cy="464.5" r="2.6" fill="#8c8c8c" stroke="#333" stroke-width="0.7"/>
<circle cx="255.0" cy="466.5" r="2.6" fill="#8c8c8c" stroke="#333" stroke-width="0.7"/>
<circle cx="282.4" cy="460.0" r="2.6" fill="#8c8c8c" stroke="#333" stroke-width="0.7"/>
<circle cx="282.8" cy="464.5" r="2.6" fill="#8c8c8c" stroke="#333" stroke-width="0.7"/>
<circle cx="282.2" cy="466.5" r="2.6" fill="#8c8c8c" stroke="#333" stroke-width="0.7"/>
<circle cx="309.8" cy="457.5" r="2.6" fill="#8c8c8c" stroke="#333" stroke-width="0.7"/>
<circle cx="309.5" cy="462.0" r="2.6" fill="#8c8c8c" stroke="#333" stroke-width="0.7"/>
<circle cx="310.0" cy="465.0" r="2.6" fill="#8c8c8c" stroke="#333" stroke-width="0.7"/>
<circle cx="337.0" cy="460.5" r="2.6" fill="#8c8c8c" stroke="#333" stroke-width="0.7"/>
<circle cx="337.5" cy="463.5" r="2.6" fill="#8c8c8c" stroke="#333" stroke-width="0.7"/>
<circle cx="337.0" cy="466.5" r="2.6" fill="#8c8c8c" stroke="#333" stroke-width="0.7"/>
<circle cx="265.5" cy="430.2" r="2.6" fill="#7ea6dc" stroke="#333" stroke-width="0.7"/>
<circle cx="264.8" cy="432.7" r="2.6" fill="#7ea6dc" stroke="#333" stroke-width="0.7"/>
<circle cx="292.5" cy="442.5" r="2.6" fill="#7ea6dc" stroke="#333" stroke-width="0.7"/>
<circle cx="293.2" cy="450.9" r="2.6" fill="#7ea6dc" stroke="#333" stroke-width="0.7"/>
<circle cx="320.2" cy="430.2" r="2.6" fill="#7ea6dc" stroke="#333" stroke-width="0.7"/>
<circle cx="320.5" cy="439.0" r="2.6" fill="#7ea6dc" stroke="#333" stroke-width="0.7"/>
<circle cx="347.7" cy="457.6" r="2.6" fill="#7ea6dc" stroke="#333" stroke-width="0.7"/>
<circle cx="346.6" cy="460.4" r="2.6" fill="#7ea6dc" stroke="#333" stroke-width="0.7"/>
<polyline points="255.4,453.7 255.4,414.8 265.6,414.8 265.6,421.8" stroke="#555" stroke-width="0.8" fill="none"/>
<text x="261.0" y="411.4" font-size="6.6" text-anchor="middle" textLength="24" lengthAdjust="spacingAndGlyphs" fill="#333">&lt;0.0001</text>
<polyline points="282.3,452.9 282.3,414.8 292.8,414.8 292.8,439.4" stroke="#555" stroke-width="0.8" fill="none"/>
<text x="288.2" y="411.4" font-size="6.6" text-anchor="middle" textLength="24" lengthAdjust="spacingAndGlyphs" fill="#333">&lt;0.0001</text>
<polyline points="309.6,450.4 309.6,414.8 320.2,414.8 320.2,422.7" stroke="#555" stroke-width="0.8" fill="none"/>
<text x="315.1" y="411.4" font-size="6.6" text-anchor="middle" textLength="24" lengthAdjust="spacingAndGlyphs" fill="#333">&lt;0.0001</text>
<polyline points="337.0,456.2 337.0,414.8 347.4,414.8 347.4,450.0" stroke="#555" stroke-width="0.8" fill="none"/>
<text x="342.3" y="411.4" font-size="6.6" text-anchor="middle" textLength="8.9" lengthAdjust="spacingAndGlyphs" fill="#333">NS</text>
<polyline points="264.9,370.3 264.9,363.6 347.5,363.6 347.5,402.4" stroke="#555" stroke-width="0.8" fill="none"/>
<polyline points="264.9,384.9 264.9,377.6 320.4,377.6 320.4,401.0" stroke="#555" stroke-width="0.8" fill="none"/>
<polyline points="264.9,398.0 264.9,392.2 292.6,392.2 292.6,401.0" stroke="#555" stroke-width="0.8" fill="none"/>
<text x="307.2" y="361.0" font-size="6.8" text-anchor="middle" textLength="24" lengthAdjust="spacingAndGlyphs" fill="#333">&lt;0.0001</text>
<text x="292.6" y="376.2" font-size="6.8" text-anchor="middle" textLength="8.9" lengthAdjust="spacingAndGlyphs" fill="#333">NS</text>
<text x="278.6" y="390.8" font-size="6.8" text-anchor="middle" textLength="20" lengthAdjust="spacingAndGlyphs" fill="#333">0.0003</text>
<text transform="translate(264.7,484.5) rotate(-45)" x="0" y="0" font-size="12.1" text-anchor="end" fill="#231f20">Mock</text>
<text transform="translate(295.9,483.4) rotate(-45)" x="0" y="0" font-size="11.9" text-anchor="end" fill="#231f20">Ep2<tspan font-size="8.3" dy="-4.5">&#8722;/&#8722;</tspan></text>
<text transform="translate(323.4,483.4) rotate(-45)" x="0" y="0" font-size="11.9" text-anchor="end" fill="#231f20">Ep4<tspan font-size="8.3" dy="-4.5">&#8722;/&#8722;</tspan></text>
<text transform="translate(350.9,483.4) rotate(-45)" x="0" y="0" font-size="11.9" text-anchor="end" fill="#231f20">Ep2<tspan font-size="8.3" dy="-4.5">&#8722;/&#8722;</tspan><tspan dy="4.5">Ep4</tspan><tspan font-size="8.3" dy="-4.5">&#8722;/&#8722;</tspan></text>
<rect x="457.0" y="362.4" width="105.89999999999998" height="106.0" fill="#fff" stroke="#555" stroke-width="0.9"/>
<path d="M457.00,387.30 L457.50,387.30 L458.00,387.30 L458.50,387.30 L459.00,387.30 L459.50,387.30 L460.00,387.30 L460.50,387.30 L461.00,387.30 L461.50,387.30 L462.00,387.30 L462.50,387.30 L463.00,387.30 L463.50,387.30 L464.00,387.30 L464.50,387.30 L465.00,387.30 L465.50,387.30 L466.00,387.30 L466.50,387.30 L467.00,387.30 L467.50,387.30 L468.00,387.30 L468.50,387.30 L469.00,387.30 L469.50,387.30 L470.00,387.30 L470.50,387.30 L471.00,387.30 L471.50,387.30 L472.00,387.30 L472.50,387.30 L473.00,387.30 L473.50,387.30 L474.00,387.30 L474.50,387.30 L475.00,387.29 L475.50,387.29 L476.00,387.29 L476.50,387.28 L477.00,387.28 L477.50,387.27 L478.00,387.25 L478.50,387.24 L479.00,387.21 L479.50,387.18 L480.00,387.15 L480.50,387.10 L481.00,387.03 L481.50,386.95 L482.00,386.85 L482.50,386.72 L483.00,386.57 L483.50,386.38 L484.00,386.15 L484.50,385.87 L485.00,385.55 L485.50,385.17 L486.00,384.72 L486.50,384.21 L487.00,383.63 L487.50,382.97 L488.00,382.24 L488.50,381.43 L489.00,380.55 L489.50,379.61 L490.00,378.60 L490.50,377.54 L491.00,376.44 L491.50,375.32 L492.00,374.19 L492.50,373.07 L493.00,371.98 L493.50,370.95 L494.00,369.99 L494.50,369.13 L495.00,368.38 L495.50,367.76 L496.00,367.28 L496.50,366.96 L497.00,366.81 L497.50,366.81 L498.00,366.91 L498.50,367.09 L499.00,367.36 L499.50,367.72 L500.00,368.14 L500.50,368.64 L501.00,369.19 L501.50,369.80 L502.00,370.44 L502.50,371.12 L503.00,371.82 L503.50,372.53 L504.00,373.24 L504.50,373.93 L505.00,374.61 L505.50,375.25 L506.00,375.86 L506.50,376.44 L507.00,376.97 L507.50,377.46 L508.00,377.91 L508.50,378.32 L509.00,378.71 L509.50,379.08 L510.00,379.43 L510.50,379.78 L511.00,380.14 L511.50,380.50 L512.00,380.87 L512.50,381.27 L513.00,381.68 L513.50,382.11 L514.00,382.54 L514.50,382.99 L515.00,383.43 L515.50,383.87 L516.00,384.29 L516.50,384.69 L517.00,385.07 L517.50,385.41 L518.00,385.73 L518.50,386.00 L519.00,386.24 L519.50,386.45 L520.00,386.62 L520.50,386.77 L521.00,386.89 L521.50,386.98 L522.00,387.06 L522.50,387.12 L523.00,387.16 L523.50,387.20 L524.00,387.23 L524.50,387.25 L525.00,387.26 L525.50,387.27 L526.00,387.28 L526.50,387.29 L527.00,387.29 L527.50,387.29 L528.00,387.29 L528.50,387.30 L529.00,387.30 L529.50,387.30 L530.00,387.30 L530.50,387.30 L531.00,387.30 L531.50,387.30 L532.00,387.30 L532.50,387.30 L533.00,387.30 L533.50,387.30 L534.00,387.30 L534.50,387.30 L535.00,387.30 L535.50,387.30 L536.00,387.30 L536.50,387.30 L537.00,387.30 L537.50,387.30 L538.00,387.30 L538.50,387.30 L539.00,387.30 L539.50,387.30 L540.00,387.30 L540.50,387.30 L541.00,387.30 L541.50,387.30 L542.00,387.30 L542.50,387.30 L543.00,387.30 L543.50,387.30 L544.00,387.30 L544.50,387.30 L545.00,387.30 L545.50,387.30 L546.00,387.30 L546.50,387.30 L547.00,387.30 L547.50,387.30 L548.00,387.30 L548.50,387.30 L549.00,387.30 L549.50,387.30 L550.00,387.30 L550.50,387.30 L551.00,387.30 L551.50,387.30 L552.00,387.30 L552.50,387.30 L553.00,387.30 L553.50,387.30 L554.00,387.30 L554.50,387.30 L555.00,387.30 L555.50,387.30 L556.00,387.30 L556.50,387.30 L557.00,387.30 L557.50,387.30 L558.00,387.30 L558.50,387.30 L559.00,387.30 L559.50,387.30 L560.00,387.30 L560.50,387.30 L561.00,387.30 L561.50,387.30 L562.00,387.30 L562.50,387.30 L562.9,387.3 L457.0,387.3 Z" fill="#7dcb6b" stroke="none"/>
<path d="M457.00,387.30 L457.50,387.30 L458.00,387.30 L458.50,387.30 L459.00,387.30 L459.50,387.30 L460.00,387.30 L460.50,387.30 L461.00,387.30 L461.50,387.30 L462.00,387.30 L462.50,387.30 L463.00,387.30 L463.50,387.30 L464.00,387.30 L464.50,387.30 L465.00,387.30 L465.50,387.30 L466.00,387.30 L466.50,387.30 L467.00,387.30 L467.50,387.30 L468.00,387.30 L468.50,387.30 L469.00,387.30 L469.50,387.30 L470.00,387.30 L470.50,387.30 L471.00,387.30 L471.50,387.30 L472.00,387.30 L472.50,387.30 L473.00,387.30 L473.50,387.30 L474.00,387.30 L474.50,387.30 L475.00,387.29 L475.50,387.29 L476.00,387.29 L476.50,387.28 L477.00,387.28 L477.50,387.27 L478.00,387.25 L478.50,387.24 L479.00,387.21 L479.50,387.18 L480.00,387.15 L480.50,387.10 L481.00,387.03 L481.50,386.95 L482.00,386.85 L482.50,386.72 L483.00,386.57 L483.50,386.38 L484.00,386.15 L484.50,385.87 L485.00,385.55 L485.50,385.17 L486.00,384.72 L486.50,384.21 L487.00,383.63 L487.50,382.97 L488.00,382.24 L488.50,381.43 L489.00,380.55 L489.50,379.61 L490.00,378.60 L490.50,377.54 L491.00,376.44 L491.50,375.32 L492.00,374.19 L492.50,373.07 L493.00,371.98 L493.50,370.95 L494.00,369.99 L494.50,369.13 L495.00,368.38 L495.50,367.76 L496.00,367.28 L496.50,366.96 L497.00,366.81 L497.50,366.81 L498.00,366.91 L498.50,367.09 L499.00,367.36 L499.50,367.72 L500.00,368.14 L500.50,368.64 L501.00,369.19 L501.50,369.80 L502.00,370.44 L502.50,371.12 L503.00,371.82 L503.50,372.53 L504.00,373.24 L504.50,373.93 L505.00,374.61 L505.50,375.25 L506.00,375.86 L506.50,376.44 L507.00,376.97 L507.50,377.46 L508.00,377.91 L508.50,378.32 L509.00,378.71 L509.50,379.08 L510.00,379.43 L510.50,379.78 L511.00,380.14 L511.50,380.50 L512.00,380.87 L512.50,381.27 L513.00,381.68 L513.50,382.11 L514.00,382.54 L514.50,382.99 L515.00,383.43 L515.50,383.87 L516.00,384.29 L516.50,384.69 L517.00,385.07 L517.50,385.41 L518.00,385.73 L518.50,386.00 L519.00,386.24 L519.50,386.45 L520.00,386.62 L520.50,386.77 L521.00,386.89 L521.50,386.98 L522.00,387.06 L522.50,387.12 L523.00,387.16 L523.50,387.20 L524.00,387.23 L524.50,387.25 L525.00,387.26 L525.50,387.27 L526.00,387.28 L526.50,387.29 L527.00,387.29 L527.50,387.29 L528.00,387.29 L528.50,387.30 L529.00,387.30 L529.50,387.30 L530.00,387.30 L530.50,387.30 L531.00,387.30 L531.50,387.30 L532.00,387.30 L532.50,387.30 L533.00,387.30 L533.50,387.30 L534.00,387.30 L534.50,387.30 L535.00,387.30 L535.50,387.30 L536.00,387.30 L536.50,387.30 L537.00,387.30 L537.50,387.30 L538.00,387.30 L538.50,387.30 L539.00,387.30 L539.50,387.30 L540.00,387.30 L540.50,387.30 L541.00,387.30 L541.50,387.30 L542.00,387.30 L542.50,387.30 L543.00,387.30 L543.50,387.30 L544.00,387.30 L544.50,387.30 L545.00,387.30 L545.50,387.30 L546.00,387.30 L546.50,387.30 L547.00,387.30 L547.50,387.30 L548.00,387.30 L548.50,387.30 L549.00,387.30 L549.50,387.30 L550.00,387.30 L550.50,387.30 L551.00,387.30 L551.50,387.30 L552.00,387.30 L552.50,387.30 L553.00,387.30 L553.50,387.30 L554.00,387.30 L554.50,387.30 L555.00,387.30 L555.50,387.30 L556.00,387.30 L556.50,387.30 L557.00,387.30 L557.50,387.30 L558.00,387.30 L558.50,387.30 L559.00,387.30 L559.50,387.30 L560.00,387.30 L560.50,387.30 L561.00,387.30 L561.50,387.30 L562.00,387.30 L562.50,387.30" fill="none" stroke="#222" stroke-width="0.75"/>
<path d="M457.00,399.00 L457.50,399.00 L458.00,399.00 L458.50,399.00 L459.00,399.00 L459.50,399.00 L460.00,399.00 L460.50,399.00 L461.00,399.00 L461.50,399.00 L462.00,399.00 L462.50,399.00 L463.00,399.00 L463.50,399.00 L464.00,399.00 L464.50,399.00 L465.00,399.00 L465.50,399.00 L466.00,399.00 L466.50,399.00 L467.00,399.00 L467.50,399.00 L468.00,399.00 L468.50,399.00 L469.00,399.00 L469.50,399.00 L470.00,399.00 L470.50,399.00 L471.00,399.00 L471.50,399.00 L472.00,399.00 L472.50,399.00 L473.00,399.00 L473.50,399.00 L474.00,399.00 L474.50,399.00 L475.00,399.00 L475.50,399.00 L476.00,399.00 L476.50,399.00 L477.00,398.99 L477.50,398.99 L478.00,398.98 L478.50,398.97 L479.00,398.95 L479.50,398.93 L480.00,398.91 L480.50,398.87 L481.00,398.83 L481.50,398.77 L482.00,398.71 L482.50,398.65 L483.00,398.58 L483.50,398.51 L484.00,398.44 L484.50,398.38 L485.00,398.34 L485.50,398.31 L486.00,398.30 L486.50,398.31 L487.00,398.34 L487.50,398.38 L488.00,398.44 L488.50,398.51 L489.00,398.58 L489.50,398.65 L490.00,398.71 L490.50,398.77 L491.00,398.83 L491.50,398.87 L492.00,398.91 L492.50,398.93 L493.00,398.95 L493.50,398.97 L494.00,398.98 L494.50,398.99 L495.00,398.99 L495.50,399.00 L496.00,399.00 L496.50,399.00 L497.00,399.00 L497.50,399.00 L498.00,399.00 L498.50,399.00 L499.00,399.00 L499.50,399.00 L500.00,399.00 L500.50,399.00 L501.00,399.00 L501.50,399.00 L502.00,399.00 L502.50,399.00 L503.00,399.00 L503.50,399.00 L504.00,399.00 L504.50,399.00 L505.00,399.00 L505.50,399.00 L506.00,399.00 L506.50,399.00 L507.00,399.00 L507.50,399.00 L508.00,399.00 L508.50,398.99 L509.00,398.99 L509.50,398.98 L510.00,398.97 L510.50,398.96 L511.00,398.93 L511.50,398.90 L512.00,398.85 L512.50,398.79 L513.00,398.70 L513.50,398.58 L514.00,398.41 L514.50,398.19 L515.00,397.91 L515.50,397.55 L516.00,397.10 L516.50,396.55 L517.00,395.88 L517.50,395.08 L518.00,394.14 L518.50,393.07 L519.00,391.86 L519.50,390.52 L520.00,389.08 L520.50,387.55 L521.00,385.97 L521.50,384.39 L522.00,382.84 L522.50,381.38 L523.00,380.06 L523.50,378.93 L524.00,378.03 L524.50,377.40 L525.00,377.06 L525.50,377.02 L526.00,377.23 L526.50,377.68 L527.00,378.34 L527.50,379.19 L528.00,380.22 L528.50,381.38 L529.00,382.65 L529.50,384.00 L530.00,385.38 L530.50,386.77 L531.00,388.13 L531.50,389.45 L532.00,390.69 L532.50,391.86 L533.00,392.92 L533.50,393.89 L534.00,394.74 L534.50,395.49 L535.00,396.14 L535.50,396.70 L536.00,397.17 L536.50,397.55 L537.00,397.87 L537.50,398.13 L538.00,398.34 L538.50,398.50 L539.00,398.63 L539.50,398.72 L540.00,398.80 L540.50,398.85 L541.00,398.90 L541.50,398.93 L542.00,398.95 L542.50,398.96 L543.00,398.98 L543.50,398.98 L544.00,398.99 L544.50,398.99 L545.00,399.00 L545.50,399.00 L546.00,399.00 L546.50,399.00 L547.00,399.00 L547.50,399.00 L548.00,399.00 L548.50,399.00 L549.00,399.00 L549.50,399.00 L550.00,399.00 L550.50,399.00 L551.00,399.00 L551.50,399.00 L552.00,399.00 L552.50,399.00 L553.00,399.00 L553.50,399.00 L554.00,399.00 L554.50,399.00 L555.00,399.00 L555.50,399.00 L556.00,399.00 L556.50,399.00 L557.00,399.00 L557.50,399.00 L558.00,399.00 L558.50,399.00 L559.00,399.00 L559.50,399.00 L560.00,399.00 L560.50,399.00 L561.00,399.00 L561.50,399.00 L562.00,399.00 L562.50,399.00 L562.9,399.0 L457.0,399.0 Z" fill="#7dcb6b" stroke="none"/>
<path d="M457.00,399.00 L457.50,399.00 L458.00,399.00 L458.50,399.00 L459.00,399.00 L459.50,399.00 L460.00,399.00 L460.50,399.00 L461.00,399.00 L461.50,399.00 L462.00,399.00 L462.50,399.00 L463.00,399.00 L463.50,399.00 L464.00,399.00 L464.50,399.00 L465.00,399.00 L465.50,399.00 L466.00,399.00 L466.50,399.00 L467.00,399.00 L467.50,399.00 L468.00,399.00 L468.50,399.00 L469.00,399.00 L469.50,399.00 L470.00,399.00 L470.50,399.00 L471.00,399.00 L471.50,399.00 L472.00,399.00 L472.50,399.00 L473.00,399.00 L473.50,399.00 L474.00,399.00 L474.50,399.00 L475.00,399.00 L475.50,399.00 L476.00,399.00 L476.50,399.00 L477.00,398.99 L477.50,398.99 L478.00,398.98 L478.50,398.97 L479.00,398.95 L479.50,398.93 L480.00,398.91 L480.50,398.87 L481.00,398.83 L481.50,398.77 L482.00,398.71 L482.50,398.65 L483.00,398.58 L483.50,398.51 L484.00,398.44 L484.50,398.38 L485.00,398.34 L485.50,398.31 L486.00,398.30 L486.50,398.31 L487.00,398.34 L487.50,398.38 L488.00,398.44 L488.50,398.51 L489.00,398.58 L489.50,398.65 L490.00,398.71 L490.50,398.77 L491.00,398.83 L491.50,398.87 L492.00,398.91 L492.50,398.93 L493.00,398.95 L493.50,398.97 L494.00,398.98 L494.50,398.99 L495.00,398.99 L495.50,399.00 L496.00,399.00 L496.50,399.00 L497.00,399.00 L497.50,399.00 L498.00,399.00 L498.50,399.00 L499.00,399.00 L499.50,399.00 L500.00,399.00 L500.50,399.00 L501.00,399.00 L501.50,399.00 L502.00,399.00 L502.50,399.00 L503.00,399.00 L503.50,399.00 L504.00,399.00 L504.50,399.00 L505.00,399.00 L505.50,399.00 L506.00,399.00 L506.50,399.00 L507.00,399.00 L507.50,399.00 L508.00,399.00 L508.50,398.99 L509.00,398.99 L509.50,398.98 L510.00,398.97 L510.50,398.96 L511.00,398.93 L511.50,398.90 L512.00,398.85 L512.50,398.79 L513.00,398.70 L513.50,398.58 L514.00,398.41 L514.50,398.19 L515.00,397.91 L515.50,397.55 L516.00,397.10 L516.50,396.55 L517.00,395.88 L517.50,395.08 L518.00,394.14 L518.50,393.07 L519.00,391.86 L519.50,390.52 L520.00,389.08 L520.50,387.55 L521.00,385.97 L521.50,384.39 L522.00,382.84 L522.50,381.38 L523.00,380.06 L523.50,378.93 L524.00,378.03 L524.50,377.40 L525.00,377.06 L525.50,377.02 L526.00,377.23 L526.50,377.68 L527.00,378.34 L527.50,379.19 L528.00,380.22 L528.50,381.38 L529.00,382.65 L529.50,384.00 L530.00,385.38 L530.50,386.77 L531.00,388.13 L531.50,389.45 L532.00,390.69 L532.50,391.86 L533.00,392.92 L533.50,393.89 L534.00,394.74 L534.50,395.49 L535.00,396.14 L535.50,396.70 L536.00,397.17 L536.50,397.55 L537.00,397.87 L537.50,398.13 L538.00,398.34 L538.50,398.50 L539.00,398.63 L539.50,398.72 L540.00,398.80 L540.50,398.85 L541.00,398.90 L541.50,398.93 L542.00,398.95 L542.50,398.96 L543.00,398.98 L543.50,398.98 L544.00,398.99 L544.50,398.99 L545.00,399.00 L545.50,399.00 L546.00,399.00 L546.50,399.00 L547.00,399.00 L547.50,399.00 L548.00,399.00 L548.50,399.00 L549.00,399.00 L549.50,399.00 L550.00,399.00 L550.50,399.00 L551.00,399.00 L551.50,399.00 L552.00,399.00 L552.50,399.00 L553.00,399.00 L553.50,399.00 L554.00,399.00 L554.50,399.00 L555.00,399.00 L555.50,399.00 L556.00,399.00 L556.50,399.00 L557.00,399.00 L557.50,399.00 L558.00,399.00 L558.50,399.00 L559.00,399.00 L559.50,399.00 L560.00,399.00 L560.50,399.00 L561.00,399.00 L561.50,399.00 L562.00,399.00 L562.50,399.00" fill="none" stroke="#222" stroke-width="0.75"/>
<path d="M457.00,410.30 L457.50,410.30 L458.00,410.30 L458.50,410.30 L459.00,410.30 L459.50,410.30 L460.00,410.30 L460.50,410.30 L461.00,410.30 L461.50,410.30 L462.00,410.30 L462.50,410.30 L463.00,410.30 L463.50,410.30 L464.00,410.30 L464.50,410.30 L465.00,410.30 L465.50,410.30 L466.00,410.30 L466.50,410.30 L467.00,410.30 L467.50,410.30 L468.00,410.30 L468.50,410.30 L469.00,410.30 L469.50,410.30 L470.00,410.30 L470.50,410.30 L471.00,410.30 L471.50,410.30 L472.00,410.30 L472.50,410.30 L473.00,410.30 L473.50,410.30 L474.00,410.30 L474.50,410.30 L475.00,410.30 L475.50,410.30 L476.00,410.30 L476.50,410.30 L477.00,410.29 L477.50,410.29 L478.00,410.29 L478.50,410.28 L479.00,410.28 L479.50,410.27 L480.00,410.26 L480.50,410.25 L481.00,410.23 L481.50,410.21 L482.00,410.18 L482.50,410.15 L483.00,410.10 L483.50,410.05 L484.00,409.98 L484.50,409.89 L485.00,409.79 L485.50,409.66 L486.00,409.51 L486.50,409.32 L487.00,409.10 L487.50,408.84 L488.00,408.54 L488.50,408.19 L489.00,407.79 L489.50,407.34 L490.00,406.82 L490.50,406.24 L491.00,405.60 L491.50,404.90 L492.00,404.13 L492.50,403.31 L493.00,402.43 L493.50,401.49 L494.00,400.52 L494.50,399.51 L495.00,398.49 L495.50,397.45 L496.00,396.42 L496.50,395.41 L497.00,394.44 L497.50,393.52 L498.00,392.68 L498.50,391.91 L499.00,391.25 L499.50,390.70 L500.00,390.27 L500.50,389.97 L501.00,389.81 L501.50,389.78 L502.00,389.86 L502.50,390.04 L503.00,390.32 L503.50,390.68 L504.00,391.12 L504.50,391.63 L505.00,392.19 L505.50,392.81 L506.00,393.46 L506.50,394.14 L507.00,394.83 L507.50,395.52 L508.00,396.20 L508.50,396.86 L509.00,397.50 L509.50,398.12 L510.00,398.71 L510.50,399.27 L511.00,399.81 L511.50,400.33 L512.00,400.84 L512.50,401.34 L513.00,401.84 L513.50,402.34 L514.00,402.85 L514.50,403.35 L515.00,403.85 L515.50,404.33 L516.00,404.81 L516.50,405.27 L517.00,405.72 L517.50,406.15 L518.00,406.57 L518.50,406.96 L519.00,407.34 L519.50,407.69 L520.00,408.02 L520.50,408.32 L521.00,408.60 L521.50,408.84 L522.00,409.07 L522.50,409.27 L523.00,409.44 L523.50,409.59 L524.00,409.72 L524.50,409.83 L525.00,409.92 L525.50,410.00 L526.00,410.06 L526.50,410.11 L527.00,410.16 L527.50,410.19 L528.00,410.22 L528.50,410.24 L529.00,410.25 L529.50,410.27 L530.00,410.27 L530.50,410.28 L531.00,410.29 L531.50,410.29 L532.00,410.29 L532.50,410.30 L533.00,410.30 L533.50,410.30 L534.00,410.30 L534.50,410.30 L535.00,410.30 L535.50,410.30 L536.00,410.30 L536.50,410.30 L537.00,410.30 L537.50,410.30 L538.00,410.30 L538.50,410.30 L539.00,410.30 L539.50,410.30 L540.00,410.30 L540.50,410.30 L541.00,410.30 L541.50,410.30 L542.00,410.30 L542.50,410.30 L543.00,410.30 L543.50,410.30 L544.00,410.30 L544.50,410.30 L545.00,410.30 L545.50,410.30 L546.00,410.30 L546.50,410.30 L547.00,410.30 L547.50,410.30 L548.00,410.30 L548.50,410.30 L549.00,410.30 L549.50,410.30 L550.00,410.30 L550.50,410.30 L551.00,410.30 L551.50,410.30 L552.00,410.30 L552.50,410.30 L553.00,410.30 L553.50,410.30 L554.00,410.30 L554.50,410.30 L555.00,410.30 L555.50,410.30 L556.00,410.30 L556.50,410.30 L557.00,410.30 L557.50,410.30 L558.00,410.30 L558.50,410.30 L559.00,410.30 L559.50,410.30 L560.00,410.30 L560.50,410.30 L561.00,410.30 L561.50,410.30 L562.00,410.30 L562.50,410.30 L562.9,410.3 L457.0,410.3 Z" fill="#62c4de" stroke="none"/>
<path d="M457.00,410.30 L457.50,410.30 L458.00,410.30 L458.50,410.30 L459.00,410.30 L459.50,410.30 L460.00,410.30 L460.50,410.30 L461.00,410.30 L461.50,410.30 L462.00,410.30 L462.50,410.30 L463.00,410.30 L463.50,410.30 L464.00,410.30 L464.50,410.30 L465.00,410.30 L465.50,410.30 L466.00,410.30 L466.50,410.30 L467.00,410.30 L467.50,410.30 L468.00,410.30 L468.50,410.30 L469.00,410.30 L469.50,410.30 L470.00,410.30 L470.50,410.30 L471.00,410.30 L471.50,410.30 L472.00,410.30 L472.50,410.30 L473.00,410.30 L473.50,410.30 L474.00,410.30 L474.50,410.30 L475.00,410.30 L475.50,410.30 L476.00,410.30 L476.50,410.30 L477.00,410.29 L477.50,410.29 L478.00,410.29 L478.50,410.28 L479.00,410.28 L479.50,410.27 L480.00,410.26 L480.50,410.25 L481.00,410.23 L481.50,410.21 L482.00,410.18 L482.50,410.15 L483.00,410.10 L483.50,410.05 L484.00,409.98 L484.50,409.89 L485.00,409.79 L485.50,409.66 L486.00,409.51 L486.50,409.32 L487.00,409.10 L487.50,408.84 L488.00,408.54 L488.50,408.19 L489.00,407.79 L489.50,407.34 L490.00,406.82 L490.50,406.24 L491.00,405.60 L491.50,404.90 L492.00,404.13 L492.50,403.31 L493.00,402.43 L493.50,401.49 L494.00,400.52 L494.50,399.51 L495.00,398.49 L495.50,397.45 L496.00,396.42 L496.50,395.41 L497.00,394.44 L497.50,393.52 L498.00,392.68 L498.50,391.91 L499.00,391.25 L499.50,390.70 L500.00,390.27 L500.50,389.97 L501.00,389.81 L501.50,389.78 L502.00,389.86 L502.50,390.04 L503.00,390.32 L503.50,390.68 L504.00,391.12 L504.50,391.63 L505.00,392.19 L505.50,392.81 L506.00,393.46 L506.50,394.14 L507.00,394.83 L507.50,395.52 L508.00,396.20 L508.50,396.86 L509.00,397.50 L509.50,398.12 L510.00,398.71 L510.50,399.27 L511.00,399.81 L511.50,400.33 L512.00,400.84 L512.50,401.34 L513.00,401.84 L513.50,402.34 L514.00,402.85 L514.50,403.35 L515.00,403.85 L515.50,404.33 L516.00,404.81 L516.50,405.27 L517.00,405.72 L517.50,406.15 L518.00,406.57 L518.50,406.96 L519.00,407.34 L519.50,407.69 L520.00,408.02 L520.50,408.32 L521.00,408.60 L521.50,408.84 L522.00,409.07 L522.50,409.27 L523.00,409.44 L523.50,409.59 L524.00,409.72 L524.50,409.83 L525.00,409.92 L525.50,410.00 L526.00,410.06 L526.50,410.11 L527.00,410.16 L527.50,410.19 L528.00,410.22 L528.50,410.24 L529.00,410.25 L529.50,410.27 L530.00,410.27 L530.50,410.28 L531.00,410.29 L531.50,410.29 L532.00,410.29 L532.50,410.30 L533.00,410.30 L533.50,410.30 L534.00,410.30 L534.50,410.30 L535.00,410.30 L535.50,410.30 L536.00,410.30 L536.50,410.30 L537.00,410.30 L537.50,410.30 L538.00,410.30 L538.50,410.30 L539.00,410.30 L539.50,410.30 L540.00,410.30 L540.50,410.30 L541.00,410.30 L541.50,410.30 L542.00,410.30 L542.50,410.30 L543.00,410.30 L543.50,410.30 L544.00,410.30 L544.50,410.30 L545.00,410.30 L545.50,410.30 L546.00,410.30 L546.50,410.30 L547.00,410.30 L547.50,410.30 L548.00,410.30 L548.50,410.30 L549.00,410.30 L549.50,410.30 L550.00,410.30 L550.50,410.30 L551.00,410.30 L551.50,410.30 L552.00,410.30 L552.50,410.30 L553.00,410.30 L553.50,410.30 L554.00,410.30 L554.50,410.30 L555.00,410.30 L555.50,410.30 L556.00,410.30 L556.50,410.30 L557.00,410.30 L557.50,410.30 L558.00,410.30 L558.50,410.30 L559.00,410.30 L559.50,410.30 L560.00,410.30 L560.50,410.30 L561.00,410.30 L561.50,410.30 L562.00,410.30 L562.50,410.30" fill="none" stroke="#222" stroke-width="0.75"/>
<path d="M457.00,421.80 L457.50,421.80 L458.00,421.80 L458.50,421.80 L459.00,421.80 L459.50,421.80 L460.00,421.80 L460.50,421.80 L461.00,421.80 L461.50,421.80 L462.00,421.80 L462.50,421.80 L463.00,421.80 L463.50,421.80 L464.00,421.80 L464.50,421.80 L465.00,421.80 L465.50,421.80 L466.00,421.80 L466.50,421.80 L467.00,421.80 L467.50,421.80 L468.00,421.80 L468.50,421.80 L469.00,421.80 L469.50,421.80 L470.00,421.80 L470.50,421.80 L471.00,421.80 L471.50,421.80 L472.00,421.80 L472.50,421.79 L473.00,421.79 L473.50,421.79 L474.00,421.79 L474.50,421.79 L475.00,421.78 L475.50,421.78 L476.00,421.77 L476.50,421.77 L477.00,421.76 L477.50,421.75 L478.00,421.74 L478.50,421.73 L479.00,421.71 L479.50,421.69 L480.00,421.67 L480.50,421.65 L481.00,421.62 L481.50,421.58 L482.00,421.54 L482.50,421.50 L483.00,421.45 L483.50,421.39 L484.00,421.32 L484.50,421.25 L485.00,421.16 L485.50,421.07 L486.00,420.96 L486.50,420.85 L487.00,420.72 L487.50,420.58 L488.00,420.42 L488.50,420.25 L489.00,420.07 L489.50,419.87 L490.00,419.66 L490.50,419.44 L491.00,419.20 L491.50,418.95 L492.00,418.69 L492.50,418.42 L493.00,418.14 L493.50,417.85 L494.00,417.55 L494.50,417.25 L495.00,416.95 L495.50,416.64 L496.00,416.34 L496.50,416.05 L497.00,415.76 L497.50,415.48 L498.00,415.22 L498.50,414.97 L499.00,414.74 L499.50,414.53 L500.00,414.34 L500.50,414.18 L501.00,414.05 L501.50,413.94 L502.00,413.86 L502.50,413.82 L503.00,413.80 L503.50,413.81 L504.00,413.86 L504.50,413.94 L505.00,414.04 L505.50,414.18 L506.00,414.34 L506.50,414.52 L507.00,414.72 L507.50,414.94 L508.00,415.18 L508.50,415.43 L509.00,415.68 L509.50,415.93 L510.00,416.18 L510.50,416.41 L511.00,416.63 L511.50,416.82 L512.00,416.97 L512.50,417.08 L513.00,417.13 L513.50,417.12 L514.00,417.02 L514.50,416.84 L515.00,416.56 L515.50,416.18 L516.00,415.68 L516.50,415.07 L517.00,414.34 L517.50,413.50 L518.00,412.56 L518.50,411.53 L519.00,410.42 L519.50,409.28 L520.00,408.11 L520.50,406.96 L521.00,405.85 L521.50,404.83 L522.00,403.93 L522.50,403.18 L523.00,402.60 L523.50,402.22 L524.00,402.06 L524.50,402.13 L525.00,402.41 L525.50,402.91 L526.00,403.61 L526.50,404.48 L527.00,405.51 L527.50,406.65 L528.00,407.88 L528.50,409.15 L529.00,410.45 L529.50,411.73 L530.00,412.97 L530.50,414.14 L531.00,415.24 L531.50,416.25 L532.00,417.16 L532.50,417.96 L533.00,418.66 L533.50,419.27 L534.00,419.78 L534.50,420.21 L535.00,420.56 L535.50,420.84 L536.00,421.07 L536.50,421.25 L537.00,421.39 L537.50,421.50 L538.00,421.58 L538.50,421.64 L539.00,421.69 L539.50,421.72 L540.00,421.75 L540.50,421.76 L541.00,421.78 L541.50,421.78 L542.00,421.79 L542.50,421.79 L543.00,421.80 L543.50,421.80 L544.00,421.80 L544.50,421.80 L545.00,421.80 L545.50,421.80 L546.00,421.80 L546.50,421.80 L547.00,421.80 L547.50,421.80 L548.00,421.80 L548.50,421.80 L549.00,421.80 L549.50,421.80 L550.00,421.80 L550.50,421.80 L551.00,421.80 L551.50,421.80 L552.00,421.80 L552.50,421.80 L553.00,421.80 L553.50,421.80 L554.00,421.80 L554.50,421.80 L555.00,421.80 L555.50,421.80 L556.00,421.80 L556.50,421.80 L557.00,421.80 L557.50,421.80 L558.00,421.80 L558.50,421.80 L559.00,421.80 L559.50,421.80 L560.00,421.80 L560.50,421.80 L561.00,421.80 L561.50,421.80 L562.00,421.80 L562.50,421.80 L562.9,421.8 L457.0,421.8 Z" fill="#62c4de" stroke="none"/>
<path d="M457.00,421.80 L457.50,421.80 L458.00,421.80 L458.50,421.80 L459.00,421.80 L459.50,421.80 L460.00,421.80 L460.50,421.80 L461.00,421.80 L461.50,421.80 L462.00,421.80 L462.50,421.80 L463.00,421.80 L463.50,421.80 L464.00,421.80 L464.50,421.80 L465.00,421.80 L465.50,421.80 L466.00,421.80 L466.50,421.80 L467.00,421.80 L467.50,421.80 L468.00,421.80 L468.50,421.80 L469.00,421.80 L469.50,421.80 L470.00,421.80 L470.50,421.80 L471.00,421.80 L471.50,421.80 L472.00,421.80 L472.50,421.79 L473.00,421.79 L473.50,421.79 L474.00,421.79 L474.50,421.79 L475.00,421.78 L475.50,421.78 L476.00,421.77 L476.50,421.77 L477.00,421.76 L477.50,421.75 L478.00,421.74 L478.50,421.73 L479.00,421.71 L479.50,421.69 L480.00,421.67 L480.50,421.65 L481.00,421.62 L481.50,421.58 L482.00,421.54 L482.50,421.50 L483.00,421.45 L483.50,421.39 L484.00,421.32 L484.50,421.25 L485.00,421.16 L485.50,421.07 L486.00,420.96 L486.50,420.85 L487.00,420.72 L487.50,420.58 L488.00,420.42 L488.50,420.25 L489.00,420.07 L489.50,419.87 L490.00,419.66 L490.50,419.44 L491.00,419.20 L491.50,418.95 L492.00,418.69 L492.50,418.42 L493.00,418.14 L493.50,417.85 L494.00,417.55 L494.50,417.25 L495.00,416.95 L495.50,416.64 L496.00,416.34 L496.50,416.05 L497.00,415.76 L497.50,415.48 L498.00,415.22 L498.50,414.97 L499.00,414.74 L499.50,414.53 L500.00,414.34 L500.50,414.18 L501.00,414.05 L501.50,413.94 L502.00,413.86 L502.50,413.82 L503.00,413.80 L503.50,413.81 L504.00,413.86 L504.50,413.94 L505.00,414.04 L505.50,414.18 L506.00,414.34 L506.50,414.52 L507.00,414.72 L507.50,414.94 L508.00,415.18 L508.50,415.43 L509.00,415.68 L509.50,415.93 L510.00,416.18 L510.50,416.41 L511.00,416.63 L511.50,416.82 L512.00,416.97 L512.50,417.08 L513.00,417.13 L513.50,417.12 L514.00,417.02 L514.50,416.84 L515.00,416.56 L515.50,416.18 L516.00,415.68 L516.50,415.07 L517.00,414.34 L517.50,413.50 L518.00,412.56 L518.50,411.53 L519.00,410.42 L519.50,409.28 L520.00,408.11 L520.50,406.96 L521.00,405.85 L521.50,404.83 L522.00,403.93 L522.50,403.18 L523.00,402.60 L523.50,402.22 L524.00,402.06 L524.50,402.13 L525.00,402.41 L525.50,402.91 L526.00,403.61 L526.50,404.48 L527.00,405.51 L527.50,406.65 L528.00,407.88 L528.50,409.15 L529.00,410.45 L529.50,411.73 L530.00,412.97 L530.50,414.14 L531.00,415.24 L531.50,416.25 L532.00,417.16 L532.50,417.96 L533.00,418.66 L533.50,419.27 L534.00,419.78 L534.50,420.21 L535.00,420.56 L535.50,420.84 L536.00,421.07 L536.50,421.25 L537.00,421.39 L537.50,421.50 L538.00,421.58 L538.50,421.64 L539.00,421.69 L539.50,421.72 L540.00,421.75 L540.50,421.76 L541.00,421.78 L541.50,421.78 L542.00,421.79 L542.50,421.79 L543.00,421.80 L543.50,421.80 L544.00,421.80 L544.50,421.80 L545.00,421.80 L545.50,421.80 L546.00,421.80 L546.50,421.80 L547.00,421.80 L547.50,421.80 L548.00,421.80 L548.50,421.80 L549.00,421.80 L549.50,421.80 L550.00,421.80 L550.50,421.80 L551.00,421.80 L551.50,421.80 L552.00,421.80 L552.50,421.80 L553.00,421.80 L553.50,421.80 L554.00,421.80 L554.50,421.80 L555.00,421.80 L555.50,421.80 L556.00,421.80 L556.50,421.80 L557.00,421.80 L557.50,421.80 L558.00,421.80 L558.50,421.80 L559.00,421.80 L559.50,421.80 L560.00,421.80 L560.50,421.80 L561.00,421.80 L561.50,421.80 L562.00,421.80 L562.50,421.80" fill="none" stroke="#222" stroke-width="0.75"/>
<path d="M457.00,433.60 L457.50,433.60 L458.00,433.60 L458.50,433.60 L459.00,433.60 L459.50,433.60 L460.00,433.60 L460.50,433.60 L461.00,433.60 L461.50,433.60 L462.00,433.60 L462.50,433.60 L463.00,433.60 L463.50,433.60 L464.00,433.60 L464.50,433.60 L465.00,433.60 L465.50,433.60 L466.00,433.60 L466.50,433.60 L467.00,433.60 L467.50,433.60 L468.00,433.60 L468.50,433.60 L469.00,433.60 L469.50,433.60 L470.00,433.60 L470.50,433.60 L471.00,433.60 L471.50,433.60 L472.00,433.60 L472.50,433.60 L473.00,433.60 L473.50,433.60 L474.00,433.60 L474.50,433.60 L475.00,433.60 L475.50,433.60 L476.00,433.60 L476.50,433.60 L477.00,433.60 L477.50,433.60 L478.00,433.60 L478.50,433.60 L479.00,433.60 L479.50,433.60 L480.00,433.60 L480.50,433.59 L481.00,433.59 L481.50,433.59 L482.00,433.58 L482.50,433.58 L483.00,433.57 L483.50,433.56 L484.00,433.55 L484.50,433.53 L485.00,433.51 L485.50,433.48 L486.00,433.45 L486.50,433.40 L487.00,433.35 L487.50,433.28 L488.00,433.19 L488.50,433.09 L489.00,432.96 L489.50,432.81 L490.00,432.62 L490.50,432.40 L491.00,432.14 L491.50,431.84 L492.00,431.49 L492.50,431.09 L493.00,430.64 L493.50,430.12 L494.00,429.54 L494.50,428.90 L495.00,428.20 L495.50,427.43 L496.00,426.61 L496.50,425.73 L497.00,424.79 L497.50,423.82 L498.00,422.81 L498.50,421.79 L499.00,420.75 L499.50,419.72 L500.00,418.71 L500.50,417.74 L501.00,416.82 L501.50,415.97 L502.00,415.21 L502.50,414.54 L503.00,413.99 L503.50,413.56 L504.00,413.26 L504.50,413.09 L505.00,413.07 L505.50,413.16 L506.00,413.37 L506.50,413.68 L507.00,414.11 L507.50,414.62 L508.00,415.22 L508.50,415.88 L509.00,416.61 L509.50,417.37 L510.00,418.17 L510.50,418.99 L511.00,419.80 L511.50,420.61 L512.00,421.39 L512.50,422.14 L513.00,422.85 L513.50,423.51 L514.00,424.12 L514.50,424.68 L515.00,425.19 L515.50,425.64 L516.00,426.05 L516.50,426.41 L517.00,426.74 L517.50,427.03 L518.00,427.30 L518.50,427.55 L519.00,427.79 L519.50,428.03 L520.00,428.27 L520.50,428.50 L521.00,428.74 L521.50,428.97 L522.00,429.20 L522.50,429.43 L523.00,429.66 L523.50,429.90 L524.00,430.14 L524.50,430.37 L525.00,430.61 L525.50,430.84 L526.00,431.07 L526.50,431.30 L527.00,431.51 L527.50,431.72 L528.00,431.92 L528.50,432.11 L529.00,432.28 L529.50,432.44 L530.00,432.59 L530.50,432.73 L531.00,432.85 L531.50,432.96 L532.00,433.06 L532.50,433.14 L533.00,433.22 L533.50,433.28 L534.00,433.34 L534.50,433.38 L535.00,433.42 L535.50,433.46 L536.00,433.49 L536.50,433.51 L537.00,433.53 L537.50,433.54 L538.00,433.56 L538.50,433.57 L539.00,433.57 L539.50,433.58 L540.00,433.58 L540.50,433.59 L541.00,433.59 L541.50,433.59 L542.00,433.60 L542.50,433.60 L543.00,433.60 L543.50,433.60 L544.00,433.60 L544.50,433.60 L545.00,433.60 L545.50,433.60 L546.00,433.60 L546.50,433.60 L547.00,433.60 L547.50,433.60 L548.00,433.60 L548.50,433.60 L549.00,433.60 L549.50,433.60 L550.00,433.60 L550.50,433.60 L551.00,433.60 L551.50,433.60 L552.00,433.60 L552.50,433.60 L553.00,433.60 L553.50,433.60 L554.00,433.60 L554.50,433.60 L555.00,433.60 L555.50,433.60 L556.00,433.60 L556.50,433.60 L557.00,433.60 L557.50,433.60 L558.00,433.60 L558.50,433.60 L559.00,433.60 L559.50,433.60 L560.00,433.60 L560.50,433.60 L561.00,433.60 L561.50,433.60 L562.00,433.60 L562.50,433.60 L562.9,433.6 L457.0,433.6 Z" fill="#3b86da" stroke="none"/>
<path d="M457.00,433.60 L457.50,433.60 L458.00,433.60 L458.50,433.60 L459.00,433.60 L459.50,433.60 L460.00,433.60 L460.50,433.60 L461.00,433.60 L461.50,433.60 L462.00,433.60 L462.50,433.60 L463.00,433.60 L463.50,433.60 L464.00,433.60 L464.50,433.60 L465.00,433.60 L465.50,433.60 L466.00,433.60 L466.50,433.60 L467.00,433.60 L467.50,433.60 L468.00,433.60 L468.50,433.60 L469.00,433.60 L469.50,433.60 L470.00,433.60 L470.50,433.60 L471.00,433.60 L471.50,433.60 L472.00,433.60 L472.50,433.60 L473.00,433.60 L473.50,433.60 L474.00,433.60 L474.50,433.60 L475.00,433.60 L475.50,433.60 L476.00,433.60 L476.50,433.60 L477.00,433.60 L477.50,433.60 L478.00,433.60 L478.50,433.60 L479.00,433.60 L479.50,433.60 L480.00,433.60 L480.50,433.59 L481.00,433.59 L481.50,433.59 L482.00,433.58 L482.50,433.58 L483.00,433.57 L483.50,433.56 L484.00,433.55 L484.50,433.53 L485.00,433.51 L485.50,433.48 L486.00,433.45 L486.50,433.40 L487.00,433.35 L487.50,433.28 L488.00,433.19 L488.50,433.09 L489.00,432.96 L489.50,432.81 L490.00,432.62 L490.50,432.40 L491.00,432.14 L491.50,431.84 L492.00,431.49 L492.50,431.09 L493.00,430.64 L493.50,430.12 L494.00,429.54 L494.50,428.90 L495.00,428.20 L495.50,427.43 L496.00,426.61 L496.50,425.73 L497.00,424.79 L497.50,423.82 L498.00,422.81 L498.50,421.79 L499.00,420.75 L499.50,419.72 L500.00,418.71 L500.50,417.74 L501.00,416.82 L501.50,415.97 L502.00,415.21 L502.50,414.54 L503.00,413.99 L503.50,413.56 L504.00,413.26 L504.50,413.09 L505.00,413.07 L505.50,413.16 L506.00,413.37 L506.50,413.68 L507.00,414.11 L507.50,414.62 L508.00,415.22 L508.50,415.88 L509.00,416.61 L509.50,417.37 L510.00,418.17 L510.50,418.99 L511.00,419.80 L511.50,420.61 L512.00,421.39 L512.50,422.14 L513.00,422.85 L513.50,423.51 L514.00,424.12 L514.50,424.68 L515.00,425.19 L515.50,425.64 L516.00,426.05 L516.50,426.41 L517.00,426.74 L517.50,427.03 L518.00,427.30 L518.50,427.55 L519.00,427.79 L519.50,428.03 L520.00,428.27 L520.50,428.50 L521.00,428.74 L521.50,428.97 L522.00,429.20 L522.50,429.43 L523.00,429.66 L523.50,429.90 L524.00,430.14 L524.50,430.37 L525.00,430.61 L525.50,430.84 L526.00,431.07 L526.50,431.30 L527.00,431.51 L527.50,431.72 L528.00,431.92 L528.50,432.11 L529.00,432.28 L529.50,432.44 L530.00,432.59 L530.50,432.73 L531.00,432.85 L531.50,432.96 L532.00,433.06 L532.50,433.14 L533.00,433.22 L533.50,433.28 L534.00,433.34 L534.50,433.38 L535.00,433.42 L535.50,433.46 L536.00,433.49 L536.50,433.51 L537.00,433.53 L537.50,433.54 L538.00,433.56 L538.50,433.57 L539.00,433.57 L539.50,433.58 L540.00,433.58 L540.50,433.59 L541.00,433.59 L541.50,433.59 L542.00,433.60 L542.50,433.60 L543.00,433.60 L543.50,433.60 L544.00,433.60 L544.50,433.60 L545.00,433.60 L545.50,433.60 L546.00,433.60 L546.50,433.60 L547.00,433.60 L547.50,433.60 L548.00,433.60 L548.50,433.60 L549.00,433.60 L549.50,433.60 L550.00,433.60 L550.50,433.60 L551.00,433.60 L551.50,433.60 L552.00,433.60 L552.50,433.60 L553.00,433.60 L553.50,433.60 L554.00,433.60 L554.50,433.60 L555.00,433.60 L555.50,433.60 L556.00,433.60 L556.50,433.60 L557.00,433.60 L557.50,433.60 L558.00,433.60 L558.50,433.60 L559.00,433.60 L559.50,433.60 L560.00,433.60 L560.50,433.60 L561.00,433.60 L561.50,433.60 L562.00,433.60 L562.50,433.60" fill="none" stroke="#222" stroke-width="0.75"/>
<path d="M457.00,445.10 L457.50,445.10 L458.00,445.10 L458.50,445.10 L459.00,445.10 L459.50,445.10 L460.00,445.10 L460.50,445.10 L461.00,445.10 L461.50,445.10 L462.00,445.10 L462.50,445.10 L463.00,445.10 L463.50,445.10 L464.00,445.10 L464.50,445.10 L465.00,445.10 L465.50,445.10 L466.00,445.10 L466.50,445.10 L467.00,445.10 L467.50,445.10 L468.00,445.10 L468.50,445.10 L469.00,445.10 L469.50,445.10 L470.00,445.10 L470.50,445.10 L471.00,445.10 L471.50,445.10 L472.00,445.10 L472.50,445.10 L473.00,445.10 L473.50,445.10 L474.00,445.10 L474.50,445.10 L475.00,445.10 L475.50,445.10 L476.00,445.10 L476.50,445.10 L477.00,445.10 L477.50,445.10 L478.00,445.10 L478.50,445.10 L479.00,445.10 L479.50,445.10 L480.00,445.10 L480.50,445.10 L481.00,445.10 L481.50,445.10 L482.00,445.10 L482.50,445.10 L483.00,445.10 L483.50,445.10 L484.00,445.10 L484.50,445.09 L485.00,445.09 L485.50,445.09 L486.00,445.08 L486.50,445.08 L487.00,445.07 L487.50,445.07 L488.00,445.06 L488.50,445.04 L489.00,445.03 L489.50,445.01 L490.00,444.99 L490.50,444.96 L491.00,444.92 L491.50,444.88 L492.00,444.84 L492.50,444.78 L493.00,444.72 L493.50,444.64 L494.00,444.56 L494.50,444.46 L495.00,444.35 L495.50,444.23 L496.00,444.10 L496.50,443.96 L497.00,443.80 L497.50,443.63 L498.00,443.46 L498.50,443.27 L499.00,443.07 L499.50,442.88 L500.00,442.67 L500.50,442.47 L501.00,442.27 L501.50,442.08 L502.00,441.90 L502.50,441.73 L503.00,441.57 L503.50,441.43 L504.00,441.32 L504.50,441.22 L505.00,441.15 L505.50,441.11 L506.00,441.10 L506.50,441.11 L507.00,441.15 L507.50,441.22 L508.00,441.31 L508.50,441.43 L509.00,441.56 L509.50,441.71 L510.00,441.87 L510.50,442.04 L511.00,442.21 L511.50,442.38 L512.00,442.54 L512.50,442.68 L513.00,442.80 L513.50,442.88 L514.00,442.92 L514.50,442.91 L515.00,442.83 L515.50,442.67 L516.00,442.41 L516.50,442.06 L517.00,441.58 L517.50,440.97 L518.00,440.23 L518.50,439.35 L519.00,438.33 L519.50,437.18 L520.00,435.91 L520.50,434.54 L521.00,433.09 L521.50,431.61 L522.00,430.14 L522.50,428.71 L523.00,427.37 L523.50,426.18 L524.00,425.17 L524.50,424.39 L525.00,423.86 L525.50,423.60 L526.00,423.63 L526.50,423.91 L527.00,424.43 L527.50,425.18 L528.00,426.12 L528.50,427.23 L529.00,428.48 L529.50,429.81 L530.00,431.21 L530.50,432.63 L531.00,434.03 L531.50,435.39 L532.00,436.68 L532.50,437.89 L533.00,439.00 L533.50,439.99 L534.00,440.88 L534.50,441.65 L535.00,442.31 L535.50,442.88 L536.00,443.35 L536.50,443.73 L537.00,444.05 L537.50,444.30 L538.00,444.50 L538.50,444.65 L539.00,444.77 L539.50,444.86 L540.00,444.93 L540.50,444.98 L541.00,445.01 L541.50,445.04 L542.00,445.06 L542.50,445.07 L543.00,445.08 L543.50,445.09 L544.00,445.09 L544.50,445.09 L545.00,445.10 L545.50,445.10 L546.00,445.10 L546.50,445.10 L547.00,445.10 L547.50,445.10 L548.00,445.10 L548.50,445.10 L549.00,445.10 L549.50,445.10 L550.00,445.10 L550.50,445.10 L551.00,445.10 L551.50,445.10 L552.00,445.10 L552.50,445.10 L553.00,445.10 L553.50,445.10 L554.00,445.10 L554.50,445.10 L555.00,445.10 L555.50,445.10 L556.00,445.10 L556.50,445.10 L557.00,445.10 L557.50,445.10 L558.00,445.10 L558.50,445.10 L559.00,445.10 L559.50,445.10 L560.00,445.10 L560.50,445.10 L561.00,445.10 L561.50,445.10 L562.00,445.10 L562.50,445.10 L562.9,445.1 L457.0,445.1 Z" fill="#3b86da" stroke="none"/>
<path d="M457.00,445.10 L457.50,445.10 L458.00,445.10 L458.50,445.10 L459.00,445.10 L459.50,445.10 L460.00,445.10 L460.50,445.10 L461.00,445.10 L461.50,445.10 L462.00,445.10 L462.50,445.10 L463.00,445.10 L463.50,445.10 L464.00,445.10 L464.50,445.10 L465.00,445.10 L465.50,445.10 L466.00,445.10 L466.50,445.10 L467.00,445.10 L467.50,445.10 L468.00,445.10 L468.50,445.10 L469.00,445.10 L469.50,445.10 L470.00,445.10 L470.50,445.10 L471.00,445.10 L471.50,445.10 L472.00,445.10 L472.50,445.10 L473.00,445.10 L473.50,445.10 L474.00,445.10 L474.50,445.10 L475.00,445.10 L475.50,445.10 L476.00,445.10 L476.50,445.10 L477.00,445.10 L477.50,445.10 L478.00,445.10 L478.50,445.10 L479.00,445.10 L479.50,445.10 L480.00,445.10 L480.50,445.10 L481.00,445.10 L481.50,445.10 L482.00,445.10 L482.50,445.10 L483.00,445.10 L483.50,445.10 L484.00,445.10 L484.50,445.09 L485.00,445.09 L485.50,445.09 L486.00,445.08 L486.50,445.08 L487.00,445.07 L487.50,445.07 L488.00,445.06 L488.50,445.04 L489.00,445.03 L489.50,445.01 L490.00,444.99 L490.50,444.96 L491.00,444.92 L491.50,444.88 L492.00,444.84 L492.50,444.78 L493.00,444.72 L493.50,444.64 L494.00,444.56 L494.50,444.46 L495.00,444.35 L495.50,444.23 L496.00,444.10 L496.50,443.96 L497.00,443.80 L497.50,443.63 L498.00,443.46 L498.50,443.27 L499.00,443.07 L499.50,442.88 L500.00,442.67 L500.50,442.47 L501.00,442.27 L501.50,442.08 L502.00,441.90 L502.50,441.73 L503.00,441.57 L503.50,441.43 L504.00,441.32 L504.50,441.22 L505.00,441.15 L505.50,441.11 L506.00,441.10 L506.50,441.11 L507.00,441.15 L507.50,441.22 L508.00,441.31 L508.50,441.43 L509.00,441.56 L509.50,441.71 L510.00,441.87 L510.50,442.04 L511.00,442.21 L511.50,442.38 L512.00,442.54 L512.50,442.68 L513.00,442.80 L513.50,442.88 L514.00,442.92 L514.50,442.91 L515.00,442.83 L515.50,442.67 L516.00,442.41 L516.50,442.06 L517.00,441.58 L517.50,440.97 L518.00,440.23 L518.50,439.35 L519.00,438.33 L519.50,437.18 L520.00,435.91 L520.50,434.54 L521.00,433.09 L521.50,431.61 L522.00,430.14 L522.50,428.71 L523.00,427.37 L523.50,426.18 L524.00,425.17 L524.50,424.39 L525.00,423.86 L525.50,423.60 L526.00,423.63 L526.50,423.91 L527.00,424.43 L527.50,425.18 L528.00,426.12 L528.50,427.23 L529.00,428.48 L529.50,429.81 L530.00,431.21 L530.50,432.63 L531.00,434.03 L531.50,435.39 L532.00,436.68 L532.50,437.89 L533.00,439.00 L533.50,439.99 L534.00,440.88 L534.50,441.65 L535.00,442.31 L535.50,442.88 L536.00,443.35 L536.50,443.73 L537.00,444.05 L537.50,444.30 L538.00,444.50 L538.50,444.65 L539.00,444.77 L539.50,444.86 L540.00,444.93 L540.50,444.98 L541.00,445.01 L541.50,445.04 L542.00,445.06 L542.50,445.07 L543.00,445.08 L543.50,445.09 L544.00,445.09 L544.50,445.09 L545.00,445.10 L545.50,445.10 L546.00,445.10 L546.50,445.10 L547.00,445.10 L547.50,445.10 L548.00,445.10 L548.50,445.10 L549.00,445.10 L549.50,445.10 L550.00,445.10 L550.50,445.10 L551.00,445.10 L551.50,445.10 L552.00,445.10 L552.50,445.10 L553.00,445.10 L553.50,445.10 L554.00,445.10 L554.50,445.10 L555.00,445.10 L555.50,445.10 L556.00,445.10 L556.50,445.10 L557.00,445.10 L557.50,445.10 L558.00,445.10 L558.50,445.10 L559.00,445.10 L559.50,445.10 L560.00,445.10 L560.50,445.10 L561.00,445.10 L561.50,445.10 L562.00,445.10 L562.50,445.10" fill="none" stroke="#222" stroke-width="0.75"/>
<path d="M457.00,456.70 L457.50,456.70 L458.00,456.70 L458.50,456.70 L459.00,456.70 L459.50,456.70 L460.00,456.70 L460.50,456.70 L461.00,456.70 L461.50,456.70 L462.00,456.70 L462.50,456.70 L463.00,456.70 L463.50,456.70 L464.00,456.70 L464.50,456.70 L465.00,456.70 L465.50,456.70 L466.00,456.70 L466.50,456.70 L467.00,456.70 L467.50,456.70 L468.00,456.70 L468.50,456.70 L469.00,456.70 L469.50,456.70 L470.00,456.70 L470.50,456.70 L471.00,456.70 L471.50,456.70 L472.00,456.70 L472.50,456.70 L473.00,456.70 L473.50,456.70 L474.00,456.70 L474.50,456.70 L475.00,456.70 L475.50,456.70 L476.00,456.70 L476.50,456.70 L477.00,456.70 L477.50,456.70 L478.00,456.70 L478.50,456.69 L479.00,456.69 L479.50,456.69 L480.00,456.69 L480.50,456.68 L481.00,456.67 L481.50,456.66 L482.00,456.65 L482.50,456.64 L483.00,456.62 L483.50,456.59 L484.00,456.56 L484.50,456.51 L485.00,456.46 L485.50,456.39 L486.00,456.31 L486.50,456.21 L487.00,456.09 L487.50,455.94 L488.00,455.76 L488.50,455.55 L489.00,455.30 L489.50,455.01 L490.00,454.67 L490.50,454.28 L491.00,453.83 L491.50,453.33 L492.00,452.76 L492.50,452.14 L493.00,451.44 L493.50,450.69 L494.00,449.88 L494.50,449.01 L495.00,448.08 L495.50,447.12 L496.00,446.12 L496.50,445.09 L497.00,444.05 L497.50,443.02 L498.00,442.01 L498.50,441.02 L499.00,440.09 L499.50,439.22 L500.00,438.43 L500.50,437.74 L501.00,437.16 L501.50,436.69 L502.00,436.36 L502.50,436.15 L503.00,436.09 L503.50,436.14 L504.00,436.31 L504.50,436.58 L505.00,436.96 L505.50,437.43 L506.00,437.98 L506.50,438.60 L507.00,439.28 L507.50,440.00 L508.00,440.75 L508.50,441.52 L509.00,442.29 L509.50,443.05 L510.00,443.79 L510.50,444.50 L511.00,445.16 L511.50,445.77 L512.00,446.33 L512.50,446.84 L513.00,447.28 L513.50,447.66 L514.00,447.99 L514.50,448.26 L515.00,448.48 L515.50,448.66 L516.00,448.81 L516.50,448.92 L517.00,449.01 L517.50,449.10 L518.00,449.17 L518.50,449.25 L519.00,449.34 L519.50,449.44 L520.00,449.56 L520.50,449.69 L521.00,449.84 L521.50,450.01 L522.00,450.19 L522.50,450.38 L523.00,450.60 L523.50,450.83 L524.00,451.07 L524.50,451.33 L525.00,451.60 L525.50,451.88 L526.00,452.16 L526.50,452.45 L527.00,452.74 L527.50,453.02 L528.00,453.31 L528.50,453.58 L529.00,453.85 L529.50,454.11 L530.00,454.35 L530.50,454.59 L531.00,454.81 L531.50,455.01 L532.00,455.20 L532.50,455.38 L533.00,455.54 L533.50,455.69 L534.00,455.82 L534.50,455.94 L535.00,456.05 L535.50,456.14 L536.00,456.22 L536.50,456.30 L537.00,456.36 L537.50,456.41 L538.00,456.46 L538.50,456.50 L539.00,456.54 L539.50,456.57 L540.00,456.59 L540.50,456.61 L541.00,456.63 L541.50,456.64 L542.00,456.65 L542.50,456.66 L543.00,456.67 L543.50,456.68 L544.00,456.68 L544.50,456.69 L545.00,456.69 L545.50,456.69 L546.00,456.69 L546.50,456.69 L547.00,456.70 L547.50,456.70 L548.00,456.70 L548.50,456.70 L549.00,456.70 L549.50,456.70 L550.00,456.70 L550.50,456.70 L551.00,456.70 L551.50,456.70 L552.00,456.70 L552.50,456.70 L553.00,456.70 L553.50,456.70 L554.00,456.70 L554.50,456.70 L555.00,456.70 L555.50,456.70 L556.00,456.70 L556.50,456.70 L557.00,456.70 L557.50,456.70 L558.00,456.70 L558.50,456.70 L559.00,456.70 L559.50,456.70 L560.00,456.70 L560.50,456.70 L561.00,456.70 L561.50,456.70 L562.00,456.70 L562.50,456.70 L562.9,456.7 L457.0,456.7 Z" fill="#2448c8" stroke="none"/>
<path d="M457.00,456.70 L457.50,456.70 L458.00,456.70 L458.50,456.70 L459.00,456.70 L459.50,456.70 L460.00,456.70 L460.50,456.70 L461.00,456.70 L461.50,456.70 L462.00,456.70 L462.50,456.70 L463.00,456.70 L463.50,456.70 L464.00,456.70 L464.50,456.70 L465.00,456.70 L465.50,456.70 L466.00,456.70 L466.50,456.70 L467.00,456.70 L467.50,456.70 L468.00,456.70 L468.50,456.70 L469.00,456.70 L469.50,456.70 L470.00,456.70 L470.50,456.70 L471.00,456.70 L471.50,456.70 L472.00,456.70 L472.50,456.70 L473.00,456.70 L473.50,456.70 L474.00,456.70 L474.50,456.70 L475.00,456.70 L475.50,456.70 L476.00,456.70 L476.50,456.70 L477.00,456.70 L477.50,456.70 L478.00,456.70 L478.50,456.69 L479.00,456.69 L479.50,456.69 L480.00,456.69 L480.50,456.68 L481.00,456.67 L481.50,456.66 L482.00,456.65 L482.50,456.64 L483.00,456.62 L483.50,456.59 L484.00,456.56 L484.50,456.51 L485.00,456.46 L485.50,456.39 L486.00,456.31 L486.50,456.21 L487.00,456.09 L487.50,455.94 L488.00,455.76 L488.50,455.55 L489.00,455.30 L489.50,455.01 L490.00,454.67 L490.50,454.28 L491.00,453.83 L491.50,453.33 L492.00,452.76 L492.50,452.14 L493.00,451.44 L493.50,450.69 L494.00,449.88 L494.50,449.01 L495.00,448.08 L495.50,447.12 L496.00,446.12 L496.50,445.09 L497.00,444.05 L497.50,443.02 L498.00,442.01 L498.50,441.02 L499.00,440.09 L499.50,439.22 L500.00,438.43 L500.50,437.74 L501.00,437.16 L501.50,436.69 L502.00,436.36 L502.50,436.15 L503.00,436.09 L503.50,436.14 L504.00,436.31 L504.50,436.58 L505.00,436.96 L505.50,437.43 L506.00,437.98 L506.50,438.60 L507.00,439.28 L507.50,440.00 L508.00,440.75 L508.50,441.52 L509.00,442.29 L509.50,443.05 L510.00,443.79 L510.50,444.50 L511.00,445.16 L511.50,445.77 L512.00,446.33 L512.50,446.84 L513.00,447.28 L513.50,447.66 L514.00,447.99 L514.50,448.26 L515.00,448.48 L515.50,448.66 L516.00,448.81 L516.50,448.92 L517.00,449.01 L517.50,449.10 L518.00,449.17 L518.50,449.25 L519.00,449.34 L519.50,449.44 L520.00,449.56 L520.50,449.69 L521.00,449.84 L521.50,450.01 L522.00,450.19 L522.50,450.38 L523.00,450.60 L523.50,450.83 L524.00,451.07 L524.50,451.33 L525.00,451.60 L525.50,451.88 L526.00,452.16 L526.50,452.45 L527.00,452.74 L527.50,453.02 L528.00,453.31 L528.50,453.58 L529.00,453.85 L529.50,454.11 L530.00,454.35 L530.50,454.59 L531.00,454.81 L531.50,455.01 L532.00,455.20 L532.50,455.38 L533.00,455.54 L533.50,455.69 L534.00,455.82 L534.50,455.94 L535.00,456.05 L535.50,456.14 L536.00,456.22 L536.50,456.30 L537.00,456.36 L537.50,456.41 L538.00,456.46 L538.50,456.50 L539.00,456.54 L539.50,456.57 L540.00,456.59 L540.50,456.61 L541.00,456.63 L541.50,456.64 L542.00,456.65 L542.50,456.66 L543.00,456.67 L543.50,456.68 L544.00,456.68 L544.50,456.69 L545.00,456.69 L545.50,456.69 L546.00,456.69 L546.50,456.69 L547.00,456.70 L547.50,456.70 L548.00,456.70 L548.50,456.70 L549.00,456.70 L549.50,456.70 L550.00,456.70 L550.50,456.70 L551.00,456.70 L551.50,456.70 L552.00,456.70 L552.50,456.70 L553.00,456.70 L553.50,456.70 L554.00,456.70 L554.50,456.70 L555.00,456.70 L555.50,456.70 L556.00,456.70 L556.50,456.70 L557.00,456.70 L557.50,456.70 L558.00,456.70 L558.50,456.70 L559.00,456.70 L559.50,456.70 L560.00,456.70 L560.50,456.70 L561.00,456.70 L561.50,456.70 L562.00,456.70 L562.50,456.70" fill="none" stroke="#222" stroke-width="0.75"/>
<path d="M457.00,468.10 L457.50,468.10 L458.00,468.10 L458.50,468.10 L459.00,468.10 L459.50,468.10 L460.00,468.10 L460.50,468.10 L461.00,468.10 L461.50,468.10 L462.00,468.10 L462.50,468.10 L463.00,468.10 L463.50,468.10 L464.00,468.10 L464.50,468.10 L465.00,468.10 L465.50,468.10 L466.00,468.10 L466.50,468.10 L467.00,468.10 L467.50,468.10 L468.00,468.10 L468.50,468.10 L469.00,468.10 L469.50,468.10 L470.00,468.10 L470.50,468.10 L471.00,468.10 L471.50,468.10 L472.00,468.10 L472.50,468.10 L473.00,468.10 L473.50,468.10 L474.00,468.10 L474.50,468.10 L475.00,468.10 L475.50,468.10 L476.00,468.10 L476.50,468.10 L477.00,468.10 L477.50,468.10 L478.00,468.10 L478.50,468.10 L479.00,468.10 L479.50,468.10 L480.00,468.10 L480.50,468.10 L481.00,468.09 L481.50,468.09 L482.00,468.09 L482.50,468.09 L483.00,468.08 L483.50,468.07 L484.00,468.06 L484.50,468.05 L485.00,468.04 L485.50,468.02 L486.00,467.99 L486.50,467.96 L487.00,467.92 L487.50,467.87 L488.00,467.81 L488.50,467.74 L489.00,467.64 L489.50,467.53 L490.00,467.40 L490.50,467.24 L491.00,467.04 L491.50,466.82 L492.00,466.56 L492.50,466.25 L493.00,465.90 L493.50,465.50 L494.00,465.05 L494.50,464.54 L495.00,463.97 L495.50,463.35 L496.00,462.66 L496.50,461.92 L497.00,461.12 L497.50,460.27 L498.00,459.37 L498.50,458.43 L499.00,457.46 L499.50,456.47 L500.00,455.47 L500.50,454.47 L501.00,453.48 L501.50,452.53 L502.00,451.62 L502.50,450.78 L503.00,450.00 L503.50,449.32 L504.00,448.73 L504.50,448.25 L505.00,447.90 L505.50,447.66 L506.00,447.56 L506.50,447.58 L507.00,447.72 L507.50,447.97 L508.00,448.32 L508.50,448.78 L509.00,449.32 L509.50,449.94 L510.00,450.62 L510.50,451.36 L511.00,452.13 L511.50,452.92 L512.00,453.73 L512.50,454.53 L513.00,455.32 L513.50,456.08 L514.00,456.80 L514.50,457.49 L515.00,458.12 L515.50,458.71 L516.00,459.25 L516.50,459.73 L517.00,460.17 L517.50,460.57 L518.00,460.92 L518.50,461.25 L519.00,461.55 L519.50,461.83 L520.00,462.10 L520.50,462.36 L521.00,462.62 L521.50,462.88 L522.00,463.13 L522.50,463.37 L523.00,463.62 L523.50,463.86 L524.00,464.11 L524.50,464.35 L525.00,464.60 L525.50,464.84 L526.00,465.08 L526.50,465.32 L527.00,465.56 L527.50,465.78 L528.00,466.00 L528.50,466.21 L529.00,466.41 L529.50,466.60 L530.00,466.78 L530.50,466.94 L531.00,467.09 L531.50,467.23 L532.00,467.35 L532.50,467.46 L533.00,467.55 L533.50,467.64 L534.00,467.72 L534.50,467.78 L535.00,467.84 L535.50,467.88 L536.00,467.92 L536.50,467.96 L537.00,467.99 L537.50,468.01 L538.00,468.03 L538.50,468.04 L539.00,468.06 L539.50,468.07 L540.00,468.07 L540.50,468.08 L541.00,468.08 L541.50,468.09 L542.00,468.09 L542.50,468.09 L543.00,468.10 L543.50,468.10 L544.00,468.10 L544.50,468.10 L545.00,468.10 L545.50,468.10 L546.00,468.10 L546.50,468.10 L547.00,468.10 L547.50,468.10 L548.00,468.10 L548.50,468.10 L549.00,468.10 L549.50,468.10 L550.00,468.10 L550.50,468.10 L551.00,468.10 L551.50,468.10 L552.00,468.10 L552.50,468.10 L553.00,468.10 L553.50,468.10 L554.00,468.10 L554.50,468.10 L555.00,468.10 L555.50,468.10 L556.00,468.10 L556.50,468.10 L557.00,468.10 L557.50,468.10 L558.00,468.10 L558.50,468.10 L559.00,468.10 L559.50,468.10 L560.00,468.10 L560.50,468.10 L561.00,468.10 L561.50,468.10 L562.00,468.10 L562.50,468.10 L562.9,468.1 L457.0,468.1 Z" fill="#2a4ccc" stroke="none"/>
<path d="M457.00,468.10 L457.50,468.10 L458.00,468.10 L458.50,468.10 L459.00,468.10 L459.50,468.10 L460.00,468.10 L460.50,468.10 L461.00,468.10 L461.50,468.10 L462.00,468.10 L462.50,468.10 L463.00,468.10 L463.50,468.10 L464.00,468.10 L464.50,468.10 L465.00,468.10 L465.50,468.10 L466.00,468.10 L466.50,468.10 L467.00,468.10 L467.50,468.10 L468.00,468.10 L468.50,468.10 L469.00,468.10 L469.50,468.10 L470.00,468.10 L470.50,468.10 L471.00,468.10 L471.50,468.10 L472.00,468.10 L472.50,468.10 L473.00,468.10 L473.50,468.10 L474.00,468.10 L474.50,468.10 L475.00,468.10 L475.50,468.10 L476.00,468.10 L476.50,468.10 L477.00,468.10 L477.50,468.10 L478.00,468.10 L478.50,468.10 L479.00,468.10 L479.50,468.10 L480.00,468.10 L480.50,468.10 L481.00,468.09 L481.50,468.09 L482.00,468.09 L482.50,468.09 L483.00,468.08 L483.50,468.07 L484.00,468.06 L484.50,468.05 L485.00,468.04 L485.50,468.02 L486.00,467.99 L486.50,467.96 L487.00,467.92 L487.50,467.87 L488.00,467.81 L488.50,467.74 L489.00,467.64 L489.50,467.53 L490.00,467.40 L490.50,467.24 L491.00,467.04 L491.50,466.82 L492.00,466.56 L492.50,466.25 L493.00,465.90 L493.50,465.50 L494.00,465.05 L494.50,464.54 L495.00,463.97 L495.50,463.35 L496.00,462.66 L496.50,461.92 L497.00,461.12 L497.50,460.27 L498.00,459.37 L498.50,458.43 L499.00,457.46 L499.50,456.47 L500.00,455.47 L500.50,454.47 L501.00,453.48 L501.50,452.53 L502.00,451.62 L502.50,450.78 L503.00,450.00 L503.50,449.32 L504.00,448.73 L504.50,448.25 L505.00,447.90 L505.50,447.66 L506.00,447.56 L506.50,447.58 L507.00,447.72 L507.50,447.97 L508.00,448.32 L508.50,448.78 L509.00,449.32 L509.50,449.94 L510.00,450.62 L510.50,451.36 L511.00,452.13 L511.50,452.92 L512.00,453.73 L512.50,454.53 L513.00,455.32 L513.50,456.08 L514.00,456.80 L514.50,457.49 L515.00,458.12 L515.50,458.71 L516.00,459.25 L516.50,459.73 L517.00,460.17 L517.50,460.57 L518.00,460.92 L518.50,461.25 L519.00,461.55 L519.50,461.83 L520.00,462.10 L520.50,462.36 L521.00,462.62 L521.50,462.88 L522.00,463.13 L522.50,463.37 L523.00,463.62 L523.50,463.86 L524.00,464.11 L524.50,464.35 L525.00,464.60 L525.50,464.84 L526.00,465.08 L526.50,465.32 L527.00,465.56 L527.50,465.78 L528.00,466.00 L528.50,466.21 L529.00,466.41 L529.50,466.60 L530.00,466.78 L530.50,466.94 L531.00,467.09 L531.50,467.23 L532.00,467.35 L532.50,467.46 L533.00,467.55 L533.50,467.64 L534.00,467.72 L534.50,467.78 L535.00,467.84 L535.50,467.88 L536.00,467.92 L536.50,467.96 L537.00,467.99 L537.50,468.01 L538.00,468.03 L538.50,468.04 L539.00,468.06 L539.50,468.07 L540.00,468.07 L540.50,468.08 L541.00,468.08 L541.50,468.09 L542.00,468.09 L542.50,468.09 L543.00,468.10 L543.50,468.10 L544.00,468.10 L544.50,468.10 L545.00,468.10 L545.50,468.10 L546.00,468.10 L546.50,468.10 L547.00,468.10 L547.50,468.10 L548.00,468.10 L548.50,468.10 L549.00,468.10 L549.50,468.10 L550.00,468.10 L550.50,468.10 L551.00,468.10 L551.50,468.10 L552.00,468.10 L552.50,468.10 L553.00,468.10 L553.50,468.10 L554.00,468.10 L554.50,468.10 L555.00,468.10 L555.50,468.10 L556.00,468.10 L556.50,468.10 L557.00,468.10 L557.50,468.10 L558.00,468.10 L558.50,468.10 L559.00,468.10 L559.50,468.10 L560.00,468.10 L560.50,468.10 L561.00,468.10 L561.50,468.10 L562.00,468.10 L562.50,468.10" fill="none" stroke="#222" stroke-width="0.75"/>
<rect x="457.0" y="362.4" width="105.89999999999998" height="106.0" fill="none" stroke="#555" stroke-width="0.9"/>
<text x="422.6" y="376.4" font-size="10.8" textLength="26.6" lengthAdjust="spacingAndGlyphs" fill="#231f20">PGE<tspan font-size="8" dy="2.5">2</tspan></text>
<text x="446.4" y="391.8" font-size="10" text-anchor="middle" font-weight="bold" fill="#333">&#8722;</text>
<text x="446.4" y="402.6" font-size="10" text-anchor="middle" font-weight="bold" fill="#333">+</text>
<text x="446.4" y="415.40000000000003" font-size="10" text-anchor="middle" font-weight="bold" fill="#333">&#8722;</text>
<text x="446.4" y="427.0" font-size="10" text-anchor="middle" font-weight="bold" fill="#333">+</text>
<text x="446.4" y="438.40000000000003" font-size="10" text-anchor="middle" font-weight="bold" fill="#333">&#8722;</text>
<text x="446.4" y="450.40000000000003" font-size="10" text-anchor="middle" font-weight="bold" fill="#333">+</text>
<text x="446.4" y="462.6" font-size="10" text-anchor="middle" font-weight="bold" fill="#333">&#8722;</text>
<text x="446.4" y="473.5" font-size="10" text-anchor="middle" font-weight="bold" fill="#333">+</text>
<polyline points="565.4,388.0 570.6,388.0 570.6,398.6 565.4,398.6" stroke="#666" stroke-width="0.8" fill="none"/>
<text x="576.4" y="397.5" font-size="11.3" fill="#231f20">Mock</text>
<polyline points="565.4,411.3 570.6,411.3 570.6,421.9 565.4,421.9" stroke="#666" stroke-width="0.8" fill="none"/>
<text x="576.4" y="420.8" font-size="11.3" fill="#231f20">Ep2<tspan font-size="8" dy="-4.3">&#8722;/&#8722;</tspan></text>
<polyline points="565.4,434.1 570.6,434.1 570.6,444.7 565.4,444.7" stroke="#666" stroke-width="0.8" fill="none"/>
<text x="576.4" y="443.59999999999997" font-size="11.3" fill="#231f20">Ep4<tspan font-size="8" dy="-4.3">&#8722;/&#8722;</tspan></text>
<polyline points="565.4,456.8 570.6,456.8 570.6,467.8 565.4,467.8" stroke="#666" stroke-width="0.8" fill="none"/>
<text x="576.4" y="466.5" font-size="11.3" fill="#231f20">Ep2<tspan font-size="8" dy="-4.3">&#8722;/&#8722;</tspan><tspan dy="4.3">Ep4</tspan><tspan font-size="8" dy="-4.3">&#8722;/&#8722;</tspan></text>
<text x="457.4" y="488.4" font-size="11.3" textLength="71.8" lengthAdjust="spacingAndGlyphs" fill="#231f20">pCREB-Alexa</text>
<text x="457.4" y="501.5" font-size="11.3" textLength="51.8" lengthAdjust="spacingAndGlyphs" fill="#231f20">Fluor 647</text>
<line x1="532.7" y1="483.7" x2="559" y2="483.7" stroke="#4b5a7a" stroke-width="1.1"/>
<path d="M562.4,483.7 L557.6,481.2 L558.6,483.7 L557.6,486.2 Z" fill="#4b5a7a"/>
<line x1="50.5" y1="578.4424999999999" x2="50.5" y2="684.85" stroke="#474747" stroke-width="1.0"/>
<line x1="44.8" y1="578.8924999999999" x2="50.5" y2="578.8924999999999" stroke="#474747" stroke-width="1.0"/>
<text x="39.1" y="582.7805" font-size="10.8" text-anchor="end" fill="#231f20">175</text>
<line x1="44.8" y1="593.9649999999999" x2="50.5" y2="593.9649999999999" stroke="#474747" stroke-width="1.0"/>
<text x="39.1" y="597.853" font-size="10.8" text-anchor="end" fill="#231f20">150</text>
<line x1="44.8" y1="609.0375" x2="50.5" y2="609.0375" stroke="#474747" stroke-width="1.0"/>
<text x="39.1" y="612.9255" font-size="10.8" text-anchor="end" fill="#231f20">125</text>
<line x1="44.8" y1="624.11" x2="50.5" y2="624.11" stroke="#474747" stroke-width="1.0"/>
<text x="39.1" y="627.998" font-size="10.8" text-anchor="end" fill="#231f20">100</text>
<line x1="44.8" y1="639.1825" x2="50.5" y2="639.1825" stroke="#474747" stroke-width="1.0"/>
<text x="39.1" y="643.0705" font-size="10.8" text-anchor="end" fill="#231f20">75</text>
<line x1="44.8" y1="654.255" x2="50.5" y2="654.255" stroke="#474747" stroke-width="1.0"/>
<text x="39.1" y="658.143" font-size="10.8" text-anchor="end" fill="#231f20">50</text>
<line x1="44.8" y1="669.3275" x2="50.5" y2="669.3275" stroke="#474747" stroke-width="1.0"/>
<text x="39.1" y="673.2155" font-size="10.8" text-anchor="end" fill="#231f20">25</text>
<line x1="44.8" y1="684.4" x2="50.5" y2="684.4" stroke="#474747" stroke-width="1.0"/>
<text x="39.1" y="688.288" font-size="10.8" text-anchor="end" fill="#231f20">0</text>
<line x1="50.5" y1="684.4" x2="155.6" y2="684.4" stroke="#474747" stroke-width="1.0"/>
<line x1="50.5" y1="684.4" x2="50.5" y2="689.4" stroke="#474747" stroke-width="1.0"/>
<line x1="71.5" y1="684.4" x2="71.5" y2="689.4" stroke="#474747" stroke-width="1.0"/>
<line x1="92.5" y1="684.4" x2="92.5" y2="689.4" stroke="#474747" stroke-width="1.0"/>
<line x1="113.5" y1="684.4" x2="113.5" y2="689.4" stroke="#474747" stroke-width="1.0"/>
<line x1="134.5" y1="684.4" x2="134.5" y2="689.4" stroke="#474747" stroke-width="1.0"/>
<line x1="155.5" y1="684.4" x2="155.5" y2="689.4" stroke="#474747" stroke-width="1.0"/>
<text x="50.5" y="703.0" font-size="11.3" text-anchor="middle" fill="#231f20">0</text>
<text x="71.5" y="703.0" font-size="11.3" text-anchor="middle" fill="#231f20">5</text>
<text x="92.5" y="703.0" font-size="11.3" text-anchor="middle" fill="#231f20">10</text>
<text x="113.5" y="703.0" font-size="11.3" text-anchor="middle" fill="#231f20">15</text>
<text x="134.5" y="703.0" font-size="11.3" text-anchor="middle" fill="#231f20">20</text>
<text x="155.5" y="703.0" font-size="11.3" text-anchor="middle" fill="#231f20">25</text>
<text x="102.5" y="720.0" font-size="12" text-anchor="middle" textLength="63.5" lengthAdjust="spacingAndGlyphs" fill="#231f20">Time (days)</text>
<text transform="translate(11.8,630.7) rotate(-90)" x="0" y="0" font-size="12" text-anchor="middle" textLength="104.5" lengthAdjust="spacingAndGlyphs" fill="#231f20">Tumour size (mm<tspan font-size="8" dy="-4.5">2</tspan><tspan dy="4.5">)</tspan></text>
<polygon points="50.50,684.40 63.10,681.39 75.70,669.93 92.50,666.92 105.10,669.33 113.50,669.33 121.90,669.93 134.50,666.92 142.90,665.11 151.30,661.49 151.30,671.14 142.90,672.34 134.50,671.74 121.90,672.34 113.50,671.74 105.10,671.74 92.50,669.33 75.70,672.34 63.10,682.59 50.50,684.40" fill="#2346c5" stroke="#222" stroke-width="0.5" stroke-opacity="0.7"/>
<polyline points="50.5,684.4 63.1,681.9884 75.7,671.1362 92.5,668.1216999999999 105.1,670.5332999999999 113.5,670.5332999999999 121.9,671.1362 134.5,669.3275 142.9,668.7246 151.3,666.313" stroke="#222" stroke-width="0.8" fill="none"/>
<circle cx="50.50" cy="684.40" r="2.75" fill="#2346c5" stroke="#222" stroke-width="0.7"/>
<circle cx="63.10" cy="681.99" r="2.75" fill="#2346c5" stroke="#222" stroke-width="0.7"/>
<circle cx="75.70" cy="671.14" r="2.75" fill="#2346c5" stroke="#222" stroke-width="0.7"/>
<circle cx="92.50" cy="668.12" r="2.75" fill="#2346c5" stroke="#222" stroke-width="0.7"/>
<circle cx="105.10" cy="670.53" r="2.75" fill="#2346c5" stroke="#222" stroke-width="0.7"/>
<circle cx="113.50" cy="670.53" r="2.75" fill="#2346c5" stroke="#222" stroke-width="0.7"/>
<circle cx="121.90" cy="671.14" r="2.75" fill="#2346c5" stroke="#222" stroke-width="0.7"/>
<circle cx="134.50" cy="669.33" r="2.75" fill="#2346c5" stroke="#222" stroke-width="0.7"/>
<circle cx="142.90" cy="668.72" r="2.75" fill="#2346c5" stroke="#222" stroke-width="0.7"/>
<circle cx="151.30" cy="666.31" r="2.75" fill="#2346c5" stroke="#222" stroke-width="0.7"/>
<polygon points="50.50,684.40 63.10,680.78 75.70,669.93 92.50,667.52 105.10,666.92 113.50,663.90 121.90,660.28 134.50,653.05 142.90,647.02 151.30,638.58 151.30,650.64 142.90,656.67 134.50,660.28 121.90,665.11 113.50,667.52 105.10,669.33 92.50,669.93 75.70,672.34 63.10,681.99 50.50,684.40" fill="#3d86db" stroke="#222" stroke-width="0.5" stroke-opacity="0.7"/>
<polyline points="50.5,684.4 63.1,681.3855 75.7,671.1362 92.5,668.7246 105.1,668.1216999999999 113.5,665.7101 121.9,662.6956 134.5,656.6666 142.9,651.8434 151.3,644.6086" stroke="#222" stroke-width="0.8" fill="none"/>
<circle cx="50.50" cy="684.40" r="2.75" fill="#3d86db" stroke="#222" stroke-width="0.7"/>
<circle cx="63.10" cy="681.39" r="2.75" fill="#3d86db" stroke="#222" stroke-width="0.7"/>
<circle cx="75.70" cy="671.14" r="2.75" fill="#3d86db" stroke="#222" stroke-width="0.7"/>
<circle cx="92.50" cy="668.72" r="2.75" fill="#3d86db" stroke="#222" stroke-width="0.7"/>
<circle cx="105.10" cy="668.12" r="2.75" fill="#3d86db" stroke="#222" stroke-width="0.7"/>
<circle cx="113.50" cy="665.71" r="2.75" fill="#3d86db" stroke="#222" stroke-width="0.7"/>
<circle cx="121.90" cy="662.70" r="2.75" fill="#3d86db" stroke="#222" stroke-width="0.7"/>
<circle cx="134.50" cy="656.67" r="2.75" fill="#3d86db" stroke="#222" stroke-width="0.7"/>
<circle cx="142.90" cy="651.84" r="2.75" fill="#3d86db" stroke="#222" stroke-width="0.7"/>
<circle cx="151.30" cy="644.61" r="2.75" fill="#3d86db" stroke="#222" stroke-width="0.7"/>
<polygon points="50.50,684.40 63.10,680.78 75.70,669.93 92.50,666.92 105.10,665.71 113.50,662.09 121.90,655.46 134.50,647.02 142.90,634.96 151.30,631.34 151.30,650.64 142.90,650.64 134.50,657.87 121.90,662.70 113.50,666.92 105.10,669.33 92.50,669.33 75.70,672.34 63.10,681.99 50.50,684.40" fill="#62c6e0" stroke="#222" stroke-width="0.5" stroke-opacity="0.7"/>
<polyline points="50.5,684.4 63.1,681.3855 75.7,671.1362 92.5,668.1216999999999 105.1,667.5187999999999 113.5,664.5043 121.9,659.0781999999999 134.5,652.4463 142.9,642.7999 151.3,640.9911999999999" stroke="#222" stroke-width="0.8" fill="none"/>
<circle cx="50.50" cy="684.40" r="2.75" fill="#62c6e0" stroke="#222" stroke-width="0.7"/>
<circle cx="63.10" cy="681.39" r="2.75" fill="#62c6e0" stroke="#222" stroke-width="0.7"/>
<circle cx="75.70" cy="671.14" r="2.75" fill="#62c6e0" stroke="#222" stroke-width="0.7"/>
<circle cx="92.50" cy="668.12" r="2.75" fill="#62c6e0" stroke="#222" stroke-width="0.7"/>
<circle cx="105.10" cy="667.52" r="2.75" fill="#62c6e0" stroke="#222" stroke-width="0.7"/>
<circle cx="113.50" cy="664.50" r="2.75" fill="#62c6e0" stroke="#222" stroke-width="0.7"/>
<circle cx="121.90" cy="659.08" r="2.75" fill="#62c6e0" stroke="#222" stroke-width="0.7"/>
<circle cx="134.50" cy="652.45" r="2.75" fill="#62c6e0" stroke="#222" stroke-width="0.7"/>
<circle cx="142.90" cy="642.80" r="2.75" fill="#62c6e0" stroke="#222" stroke-width="0.7"/>
<circle cx="151.30" cy="640.99" r="2.75" fill="#62c6e0" stroke="#222" stroke-width="0.7"/>
<polygon points="50.50,684.40 63.10,680.78 75.70,669.33 92.50,664.50 105.10,660.28 113.50,656.67 121.90,649.43 134.50,635.57 142.90,628.93 151.30,615.67 151.30,625.32 142.90,637.37 134.50,641.59 121.90,654.25 113.50,660.28 105.10,663.90 92.50,666.92 75.70,671.74 63.10,681.99 50.50,684.40" fill="#7dcb6b" stroke="#222" stroke-width="0.5" stroke-opacity="0.7"/>
<polyline points="50.5,684.4 63.1,681.3855 75.7,670.5332999999999 92.5,665.7101 105.1,662.0926999999999 113.5,658.4753 121.9,651.8434 134.5,638.5796 142.9,633.1535 151.3,620.4926" stroke="#222" stroke-width="0.8" fill="none"/>
<circle cx="50.50" cy="684.40" r="2.75" fill="#7dcb6b" stroke="#222" stroke-width="0.7"/>
<circle cx="63.10" cy="681.39" r="2.75" fill="#7dcb6b" stroke="#222" stroke-width="0.7"/>
<circle cx="75.70" cy="670.53" r="2.75" fill="#7dcb6b" stroke="#222" stroke-width="0.7"/>
<circle cx="92.50" cy="665.71" r="2.75" fill="#7dcb6b" stroke="#222" stroke-width="0.7"/>
<circle cx="105.10" cy="662.09" r="2.75" fill="#7dcb6b" stroke="#222" stroke-width="0.7"/>
<circle cx="113.50" cy="658.48" r="2.75" fill="#7dcb6b" stroke="#222" stroke-width="0.7"/>
<circle cx="121.90" cy="651.84" r="2.75" fill="#7dcb6b" stroke="#222" stroke-width="0.7"/>
<circle cx="134.50" cy="638.58" r="2.75" fill="#7dcb6b" stroke="#222" stroke-width="0.7"/>
<circle cx="142.90" cy="633.15" r="2.75" fill="#7dcb6b" stroke="#222" stroke-width="0.7"/>
<circle cx="151.30" cy="620.49" r="2.75" fill="#7dcb6b" stroke="#222" stroke-width="0.7"/>
<polygon points="50.50,684.40 63.10,680.18 75.70,668.72 92.50,659.08 105.10,648.23 113.50,641.59 121.90,633.15 134.50,612.65 142.90,604.82 151.30,591.55 151.30,615.67 142.90,621.70 134.50,624.71 121.90,640.39 113.50,647.62 105.10,653.05 92.50,662.70 75.70,671.14 63.10,681.39 50.50,684.40" fill="#7c7c7c" stroke="#222" stroke-width="0.5" stroke-opacity="0.7"/>
<polyline points="50.5,684.4 63.1,680.7826 75.7,669.9304 92.5,660.8869 105.1,650.6376 113.5,644.6086 121.9,636.7709 134.5,618.6839 142.9,613.2578 151.3,603.6114" stroke="#222" stroke-width="0.8" fill="none"/>
<circle cx="50.50" cy="684.40" r="2.75" fill="#666666" stroke="#222" stroke-width="0.7"/>
<circle cx="63.10" cy="680.78" r="2.75" fill="#666666" stroke="#222" stroke-width="0.7"/>
<circle cx="75.70" cy="669.93" r="2.75" fill="#666666" stroke="#222" stroke-width="0.7"/>
<circle cx="92.50" cy="660.89" r="2.75" fill="#666666" stroke="#222" stroke-width="0.7"/>
<circle cx="105.10" cy="650.64" r="2.75" fill="#666666" stroke="#222" stroke-width="0.7"/>
<circle cx="113.50" cy="644.61" r="2.75" fill="#666666" stroke="#222" stroke-width="0.7"/>
<circle cx="121.90" cy="636.77" r="2.75" fill="#666666" stroke="#222" stroke-width="0.7"/>
<circle cx="134.50" cy="618.68" r="2.75" fill="#666666" stroke="#222" stroke-width="0.7"/>
<circle cx="142.90" cy="613.26" r="2.75" fill="#666666" stroke="#222" stroke-width="0.7"/>
<circle cx="151.30" cy="603.61" r="2.75" fill="#666666" stroke="#222" stroke-width="0.7"/>
<circle cx="169.2" cy="583.1" r="2.8" fill="#5a5a5a" stroke="#333" stroke-width="0.7"/>
<text x="179.6" y="587.3000000000001" font-size="11.5" fill="#231f20">PBS</text>
<circle cx="169.2" cy="605.9" r="2.8" fill="#7dcb6b" stroke="#333" stroke-width="0.7"/>
<text x="179.6" y="610.1" font-size="11.5" fill="#231f20">Mock</text>
<circle cx="169.2" cy="631.5" r="2.8" fill="#62c6e0" stroke="#333" stroke-width="0.7"/>
<text x="179.6" y="635.7" font-size="11.5" fill="#231f20">Ep2<tspan font-size="8" dy="-4.3">&#8722;/&#8722;</tspan></text>
<circle cx="169.2" cy="656.0" r="2.8" fill="#3d86db" stroke="#333" stroke-width="0.7"/>
<text x="179.6" y="660.2" font-size="11.5" fill="#231f20">Ep4<tspan font-size="8" dy="-4.3">&#8722;/&#8722;</tspan></text>
<circle cx="169.2" cy="679.6" r="2.8" fill="#2346c5" stroke="#333" stroke-width="0.7"/>
<text x="179.6" y="683.8000000000001" font-size="11.5" fill="#231f20">Ep2<tspan font-size="8" dy="-4.3">&#8722;/&#8722;</tspan><tspan dy="4.3">Ep4</tspan><tspan font-size="8" dy="-4.3">&#8722;/&#8722;</tspan></text>
<polyline points="220,582.1 231.5,582.1 231.5,607.3 220,607.3" stroke="#555" stroke-width="0.8" fill="none"/>
<text x="233.3" y="596.8" font-size="6.8" textLength="8.9" lengthAdjust="spacingAndGlyphs" fill="#333">NS</text>
<polyline points="235.8,607.3 244.7,607.3 244.7,630.4 220,630.4" stroke="#555" stroke-width="0.8" fill="none"/>
<text x="246.5" y="620.8" font-size="6.8" textLength="8.9" lengthAdjust="spacingAndGlyphs" fill="#333">NS</text>
<polyline points="247.6,607.3 257.1,607.3 257.1,656.0 220,656.0" stroke="#555" stroke-width="0.8" fill="none"/>
<text x="259.0" y="634.3" font-size="6.8" textLength="8.9" lengthAdjust="spacingAndGlyphs" fill="#333">NS</text>
<polyline points="260.0,607.3 272.7,607.3 272.7,679.2 251.0,679.2" stroke="#555" stroke-width="0.8" fill="none"/>
<text x="275.0" y="646.1" font-size="6.8" textLength="24" lengthAdjust="spacingAndGlyphs" fill="#333">&lt;0.0001</text>
<line x1="374.2" y1="577.95" x2="374.2" y2="685.1500000000001" stroke="#474747" stroke-width="1.0"/>
<line x1="368.7" y1="578.4000000000001" x2="374.2" y2="578.4000000000001" stroke="#474747" stroke-width="1.0"/>
<text x="362.8" y="582.2880000000001" font-size="10.8" text-anchor="end" fill="#231f20">100</text>
<line x1="368.7" y1="599.6600000000001" x2="374.2" y2="599.6600000000001" stroke="#474747" stroke-width="1.0"/>
<text x="362.8" y="603.5480000000001" font-size="10.8" text-anchor="end" fill="#231f20">80</text>
<line x1="368.7" y1="620.9200000000001" x2="374.2" y2="620.9200000000001" stroke="#474747" stroke-width="1.0"/>
<text x="362.8" y="624.8080000000001" font-size="10.8" text-anchor="end" fill="#231f20">60</text>
<line x1="368.7" y1="642.1800000000001" x2="374.2" y2="642.1800000000001" stroke="#474747" stroke-width="1.0"/>
<text x="362.8" y="646.0680000000001" font-size="10.8" text-anchor="end" fill="#231f20">40</text>
<line x1="368.7" y1="663.44" x2="374.2" y2="663.44" stroke="#474747" stroke-width="1.0"/>
<text x="362.8" y="667.3280000000001" font-size="10.8" text-anchor="end" fill="#231f20">20</text>
<line x1="368.7" y1="684.7" x2="374.2" y2="684.7" stroke="#474747" stroke-width="1.0"/>
<text x="362.8" y="688.5880000000001" font-size="10.8" text-anchor="end" fill="#231f20">0</text>
<line x1="374.2" y1="684.7" x2="479.6" y2="684.7" stroke="#474747" stroke-width="1.0"/>
<line x1="374.2" y1="684.7" x2="374.2" y2="689.7" stroke="#474747" stroke-width="1.0"/>
<line x1="395.3" y1="684.7" x2="395.3" y2="689.7" stroke="#474747" stroke-width="1.0"/>
<line x1="416.4" y1="684.7" x2="416.4" y2="689.7" stroke="#474747" stroke-width="1.0"/>
<line x1="437.4" y1="684.7" x2="437.4" y2="689.7" stroke="#474747" stroke-width="1.0"/>
<line x1="458.5" y1="684.7" x2="458.5" y2="689.7" stroke="#474747" stroke-width="1.0"/>
<line x1="479.6" y1="684.7" x2="479.6" y2="689.7" stroke="#474747" stroke-width="1.0"/>
<text x="374.2" y="703.5" font-size="11.3" text-anchor="middle" fill="#231f20">0</text>
<text x="395.3" y="703.5" font-size="11.3" text-anchor="middle" fill="#231f20">20</text>
<text x="416.4" y="703.5" font-size="11.3" text-anchor="middle" fill="#231f20">40</text>
<text x="437.4" y="703.5" font-size="11.3" text-anchor="middle" fill="#231f20">60</text>
<text x="458.5" y="703.5" font-size="11.3" text-anchor="middle" fill="#231f20">80</text>
<text x="479.6" y="703.5" font-size="11.3" text-anchor="middle" fill="#231f20">100</text>
<text x="426.4" y="720.3" font-size="12" text-anchor="middle" textLength="63.5" lengthAdjust="spacingAndGlyphs" fill="#231f20">Time (days)</text>
<text transform="translate(336.8,631.1) rotate(-90)" x="0" y="0" font-size="12" text-anchor="middle" textLength="64" lengthAdjust="spacingAndGlyphs" fill="#231f20">Survival (%)</text>
<polyline points="374.20,578.40 397.30,578.40 397.30,585.52 402.60,585.52 402.60,592.54 404.80,592.54 404.80,606.78 412.00,606.78 412.00,613.80 414.00,613.80 414.00,628.04 419.20,628.04 419.20,635.06 421.20,635.06 421.20,643.00 432.10,643.00 432.10,651.40 439.20,651.40 439.20,659.50 451.40,659.50 451.40,667.70 480.00,667.70 480.00,667.70" fill="none" stroke="#2346c5" stroke-width="1.75" stroke-linejoin="miter"/>
<polyline points="374.20,578.40 394.50,578.40 394.50,585.52 398.60,585.52 398.60,599.66 402.20,599.66 402.20,613.80 404.40,613.80 404.40,628.04 406.60,628.04 406.60,642.18 414.00,642.18 414.00,656.32 416.70,656.32 416.70,663.44 424.60,663.44 424.60,670.56 426.20,670.56 426.20,677.58 436.30,677.58 436.30,684.70" fill="none" stroke="#3d86db" stroke-width="1.75" stroke-linejoin="miter"/>
<polyline points="374.20,578.40 392.00,578.40 392.00,592.54 394.50,592.54 394.50,606.78 397.00,606.78 397.00,620.92 399.50,620.92 399.50,635.06 402.00,635.06 402.00,642.18 417.00,642.18 417.00,649.30 427.10,649.30 427.10,656.32 428.80,656.32 428.80,663.44 433.80,663.44 433.80,670.56 441.30,670.56 441.30,677.58 480.00,677.58 480.00,677.58" fill="none" stroke="#62c6e0" stroke-width="1.75" stroke-linejoin="miter"/>
<polyline points="374.20,578.40 389.80,578.40 389.80,585.52 395.10,585.52 395.10,599.66 397.10,599.66 397.10,606.78 398.90,606.78 398.90,635.06 402.40,635.06 402.40,663.44 409.70,663.44 409.70,677.58 426.70,677.58 426.70,684.70" fill="none" stroke="#7dcb6b" stroke-width="1.75" stroke-linejoin="miter"/>
<polyline points="374.20,578.40 387.70,578.40 387.70,585.52 389.50,585.52 389.50,592.54 391.80,592.54 391.80,613.80 395.10,613.80 395.10,649.30 396.60,649.30 396.60,663.44 402.20,663.44 402.20,677.58 409.70,677.58 409.70,684.70" fill="none" stroke="#666666" stroke-width="1.75" stroke-linejoin="miter"/>
<line x1="493.2" y1="583.1" x2="511.9" y2="583.1" stroke="#555" stroke-width="1.5"/>
<line x1="502.5" y1="580.5" x2="502.5" y2="583.1" stroke="#555" stroke-width="1.0"/>
<text x="518.6" y="587.3000000000001" font-size="11.5" textLength="76.8" lengthAdjust="spacingAndGlyphs" fill="#231f20">PBS (0/15 CR)</text>
<line x1="493.2" y1="607.1" x2="511.9" y2="607.1" stroke="#7dcb6b" stroke-width="1.5"/>
<line x1="502.5" y1="604.5" x2="502.5" y2="607.1" stroke="#7dcb6b" stroke-width="1.0"/>
<text x="518.6" y="611.3000000000001" font-size="11.5" textLength="85.4" lengthAdjust="spacingAndGlyphs" fill="#231f20">Mock (0/15 CR)</text>
<line x1="493.2" y1="631.3" x2="511.9" y2="631.3" stroke="#62c6e0" stroke-width="1.5"/>
<line x1="502.5" y1="628.6999999999999" x2="502.5" y2="631.3" stroke="#62c6e0" stroke-width="1.0"/>
<text x="518.6" y="635.5" font-size="11.5" textLength="84.4" lengthAdjust="spacingAndGlyphs" fill="#231f20">Ep2<tspan font-size="8" dy="-4.3">&#8722;/&#8722;</tspan><tspan dy="4.3"> (1/15 CR)</tspan></text>
<line x1="493.2" y1="655.3" x2="511.9" y2="655.3" stroke="#3d86db" stroke-width="1.5"/>
<line x1="502.5" y1="652.6999999999999" x2="502.5" y2="655.3" stroke="#3d86db" stroke-width="1.0"/>
<text x="518.6" y="659.5" font-size="11.5" textLength="87.6" lengthAdjust="spacingAndGlyphs" fill="#231f20">Ep4<tspan font-size="8" dy="-4.3">&#8722;/&#8722;</tspan><tspan dy="4.3"> (0/15 CR)</tspan></text>
<line x1="493.2" y1="680.1" x2="511.9" y2="680.1" stroke="#2346c5" stroke-width="1.5"/>
<line x1="502.5" y1="677.5" x2="502.5" y2="680.1" stroke="#2346c5" stroke-width="1.0"/>
<text x="518.6" y="684.3000000000001" font-size="11.5" textLength="120.3" lengthAdjust="spacingAndGlyphs" fill="#231f20">Ep2<tspan font-size="8" dy="-4.3">&#8722;/&#8722;</tspan><tspan dy="4.3">Ep4</tspan><tspan font-size="8" dy="-4.3">&#8722;/&#8722;</tspan><tspan dy="4.3"> (3/15 CR)</tspan></text>
<polyline points="617,583.1 628,583.1 628,608.0 617,608.0" stroke="#555" stroke-width="0.8" fill="none"/>
<text x="629.5" y="598.0" font-size="6.8" textLength="19.5" lengthAdjust="spacingAndGlyphs" fill="#333">0.0212</text>
<polyline points="630.4,608.0 639.2,608.0 639.2,628.4 617,628.4" stroke="#555" stroke-width="0.8" fill="none"/>
<text x="640.6" y="621.9" font-size="6.8" textLength="8.9" lengthAdjust="spacingAndGlyphs" fill="#333">NS</text>
<polyline points="642.7,608.0 650.8,608.0 650.8,654.7 617,654.7" stroke="#555" stroke-width="0.8" fill="none"/>
<text x="651.4" y="640.3" font-size="6.8" textLength="19.5" lengthAdjust="spacingAndGlyphs" fill="#333">0.0412</text>
<polyline points="652.9,608.0 661.6,608.0 661.6,680.4 642.7,680.4" stroke="#555" stroke-width="0.8" fill="none"/>
<text x="663.7" y="651.1" font-size="6.8" textLength="19.5" lengthAdjust="spacingAndGlyphs" fill="#333">0.0001</text>
</svg>
</body></html>
